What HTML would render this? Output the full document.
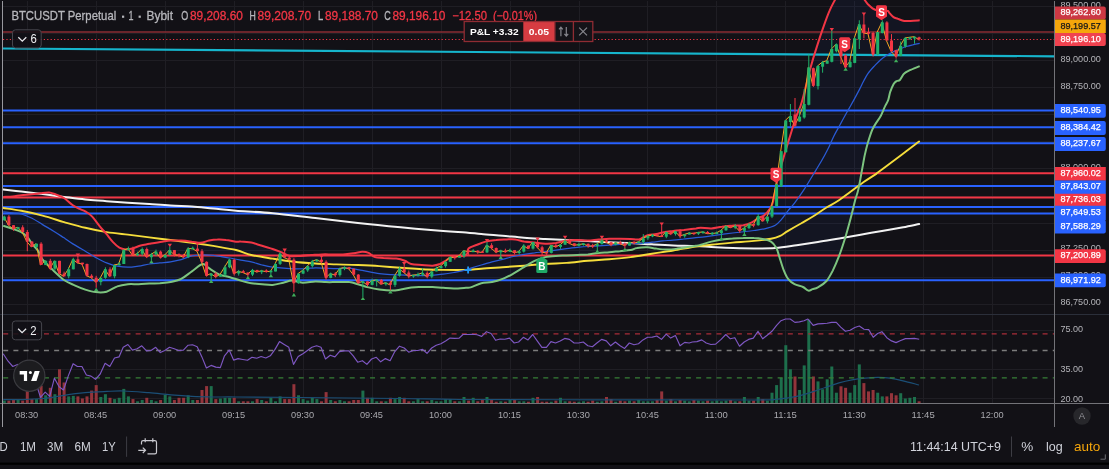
<!DOCTYPE html>
<html><head><meta charset="utf-8"><title>BTCUSDT Perpetual chart</title>
<style>html,body{margin:0;padding:0;background:#121116;overflow:hidden}body{width:1109px;height:469px;position:relative;font-family:"Liberation Sans",sans-serif}</style></head>
<body>
<svg width="1109" height="469" viewBox="0 0 1109 469" style="position:absolute;left:0;top:0" font-family="Liberation Sans, sans-serif">
<rect width="1109" height="469" fill="#121116"/>
<defs><clipPath id="main"><rect x="3" y="0" width="1051.5" height="314"/></clipPath><clipPath id="rsi"><rect x="3" y="315" width="1051.5" height="88"/></clipPath></defs>
<g stroke="#1f1e24" stroke-width="1" shape-rendering="crispEdges">
<line x1="27.3" y1="1" x2="27.3" y2="403"/>
<line x1="96.3" y1="1" x2="96.3" y2="403"/>
<line x1="165.2" y1="1" x2="165.2" y2="403"/>
<line x1="234.2" y1="1" x2="234.2" y2="403"/>
<line x1="303.1" y1="1" x2="303.1" y2="403"/>
<line x1="372.1" y1="1" x2="372.1" y2="403"/>
<line x1="441.1" y1="1" x2="441.1" y2="403"/>
<line x1="510.0" y1="1" x2="510.0" y2="403"/>
<line x1="579.0" y1="1" x2="579.0" y2="403"/>
<line x1="647.9" y1="1" x2="647.9" y2="403"/>
<line x1="716.9" y1="1" x2="716.9" y2="403"/>
<line x1="785.9" y1="1" x2="785.9" y2="403"/>
<line x1="854.8" y1="1" x2="854.8" y2="403"/>
<line x1="923.8" y1="1" x2="923.8" y2="403"/>
<line x1="992.7" y1="1" x2="992.7" y2="403"/>
<line x1="3" y1="304.2" x2="1054" y2="304.2"/>
<line x1="3" y1="277.1" x2="1054" y2="277.1"/>
<line x1="3" y1="250.1" x2="1054" y2="250.1"/>
<line x1="3" y1="223.0" x2="1054" y2="223.0"/>
<line x1="3" y1="196.0" x2="1054" y2="196.0"/>
<line x1="3" y1="168.9" x2="1054" y2="168.9"/>
<line x1="3" y1="141.9" x2="1054" y2="141.9"/>
<line x1="3" y1="114.8" x2="1054" y2="114.8"/>
<line x1="3" y1="87.8" x2="1054" y2="87.8"/>
<line x1="3" y1="60.7" x2="1054" y2="60.7"/>
<line x1="3" y1="33.7" x2="1054" y2="33.7"/>
<line x1="3" y1="6.6" x2="1054" y2="6.6"/>
<line x1="3" y1="330.3" x2="1054" y2="330.3"/>
<line x1="3" y1="369.3" x2="1054" y2="369.3"/>
<line x1="3" y1="398.5" x2="1054" y2="398.5"/>
</g>
<g clip-path="url(#main)">
<polygon points="3.2,196.9 12.8,196.5 21.3,195.2 32.0,194.3 40.5,193.3 49.0,192.6 55.4,194.3 64.0,198.0 72.5,205.0 78.9,208.6 85.3,211.4 91.7,216.1 100.2,226.8 106.6,234.2 113.0,242.1 119.4,247.7 125.8,249.4 132.2,248.5 140.7,245.5 149.3,243.8 162.0,241.7 170.6,240.6 181.2,240.6 191.9,241.7 200.4,242.8 209.0,240.6 217.5,239.6 226.0,240.0 236.0,241.7 240.7,241.6 251.3,242.6 262.0,245.8 272.6,249.0 281.2,252.2 289.7,255.9 300.4,255.9 311.0,255.0 321.7,254.4 332.3,254.4 343.0,254.4 353.7,253.3 362.2,251.8 368.6,252.9 375.0,257.1 383.5,258.0 396.3,258.6 404.8,260.8 411.2,264.0 421.9,265.0 432.6,265.7 440.0,264.0 445.4,260.8 451.7,257.1 466.0,255.0 468.5,248.6 477.1,244.8 485.6,241.6 496.2,240.1 506.9,239.4 515.4,239.4 524.0,241.6 534.6,242.6 545.3,243.7 555.9,243.1 566.6,240.5 577.3,240.1 587.9,240.5 598.6,239.4 609.3,238.8 619.9,238.8 630.6,239.0 639.1,239.4 647.6,235.2 656.2,234.1 664.7,232.0 673.2,230.9 683.9,229.9 696.0,228.4 700.7,227.7 711.3,228.4 722.0,226.7 732.6,225.6 743.3,225.2 751.8,222.4 758.2,218.1 764.6,214.9 770.0,208.5 773.2,201.1 776.2,185.3 780.5,168.2 784.8,153.3 789.0,139.4 793.3,125.6 797.6,112.8 801.8,102.1 810.4,68.2 816.8,46.9 823.2,27.7 829.6,10.7 834.9,0.0 838.1,-6.4 846.6,-14.9 855.1,-12.8 861.5,-5.3 864.7,0.0 867.9,4.3 872.2,8.1 876.5,10.2 887.1,10.7 889.3,12.8 893.5,17.1 897.8,18.8 904.2,20.9 910.6,20.9 919.7,20.3 919.7,66.1 910.6,69.9 904.2,73.6 899.9,80.0 896.7,81.0 893.5,84.2 890.3,91.7 888.2,100.0 885.0,106.4 880.7,116.0 876.5,122.4 872.2,129.9 867.9,142.6 864.7,155.4 861.5,172.5 858.3,189.6 855.2,200.0 851.0,217.1 845.7,236.2 839.3,255.4 832.9,270.4 826.5,281.0 817.9,287.4 812.6,289.1 808.3,290.6 803.0,287.0 794.5,284.2 788.1,278.9 783.8,270.4 779.6,257.6 776.4,248.0 771.0,241.6 762.5,239.0 754.0,238.0 743.3,238.0 732.6,238.4 722.0,239.4 711.3,241.6 700.7,244.8 696.0,245.8 686.0,247.3 677.5,248.6 666.8,249.5 656.2,248.6 647.6,247.3 637.0,248.0 630.6,250.1 619.9,251.2 609.3,252.2 598.6,252.9 587.9,254.4 577.3,255.0 566.6,255.4 555.9,255.9 545.3,257.1 534.6,260.8 524.0,267.2 513.3,273.6 502.6,278.9 492.0,282.1 481.3,283.2 470.7,287.4 466.0,287.8 453.9,288.5 443.2,287.8 432.6,287.0 421.9,287.0 411.2,287.4 400.6,289.6 392.0,290.6 379.3,289.6 368.6,287.4 357.9,284.2 349.4,282.1 336.6,282.1 325.9,282.1 315.3,281.4 302.5,282.7 291.8,280.6 283.3,282.7 272.6,284.9 262.0,284.2 251.3,283.2 240.7,280.6 229.9,277.2 219.6,274.6 209.0,268.2 202.6,264.0 191.9,271.4 181.2,278.9 170.6,282.1 159.9,283.2 149.3,283.6 138.6,284.2 127.9,284.2 117.3,286.4 106.6,291.7 95.9,292.1 85.3,289.6 74.6,285.3 64.0,280.0 53.3,270.4 42.6,259.7 38.4,251.2 32.0,243.8 27.7,237.4 21.3,232.1 12.8,228.9 3.2,225.7" fill="#2962ff" fill-opacity="0.055"/>
<line x1="3" y1="110.4" x2="1054.5" y2="110.4" stroke="#2962ff" stroke-width="2"/>
<line x1="3" y1="127.3" x2="1054.5" y2="127.3" stroke="#2962ff" stroke-width="2"/>
<line x1="3" y1="143.2" x2="1054.5" y2="143.2" stroke="#2962ff" stroke-width="2"/>
<line x1="3" y1="173.3" x2="1054.5" y2="173.3" stroke="#f23645" stroke-width="2"/>
<line x1="3" y1="185.9" x2="1054.5" y2="185.9" stroke="#2962ff" stroke-width="2"/>
<line x1="3" y1="197.5" x2="1054.5" y2="197.5" stroke="#f23645" stroke-width="2"/>
<line x1="3" y1="206.9" x2="1054.5" y2="206.9" stroke="#2962ff" stroke-width="2"/>
<line x1="3" y1="213.5" x2="1054.5" y2="213.5" stroke="#2962ff" stroke-width="2"/>
<line x1="3" y1="255.4" x2="1054.5" y2="255.4" stroke="#f23645" stroke-width="2"/>
<line x1="3" y1="280.2" x2="1054.5" y2="280.2" stroke="#2962ff" stroke-width="2"/>
<line x1="3" y1="48.5" x2="1054.5" y2="56.3" stroke="#16b5cc" stroke-width="2.2"/>
<line x1="3" y1="32" x2="1054.5" y2="32" stroke="#8a2d33" stroke-width="1.7"/>
<line x1="3" y1="39.5" x2="1054.5" y2="39.5" stroke="#f23645" stroke-width="1" stroke-dasharray="1.2,2.2"/>
<path d="M3.2,189.4 C6.2,189.8 14.7,190.8 21.3,191.6 C27.9,192.4 35.5,193.2 42.6,194.1 C49.8,195.0 56.9,196.0 64.0,196.9 C71.1,197.8 78.2,198.8 85.3,199.5 C92.4,200.2 99.5,200.6 106.6,201.2 C113.7,201.7 120.8,202.2 127.9,202.7 C135.0,203.1 142.1,203.5 149.3,203.9 C156.4,204.4 163.5,205.0 170.6,205.4 C177.7,205.9 184.8,206.0 191.9,206.5 C199.0,207.0 205.9,207.9 213.2,208.6 C220.6,209.3 226.1,210.0 236.0,210.8 C245.9,211.5 259.4,212.0 272.6,213.2 C285.9,214.4 301.1,216.5 315.3,218.1 C329.5,219.8 343.7,221.5 357.9,223.0 C372.1,224.6 386.4,226.0 400.6,227.3 C414.8,228.6 432.3,230.1 443.2,230.9 C454.1,231.8 459.7,231.9 466.0,232.4 C472.4,232.9 475.2,233.5 481.3,234.1 C487.4,234.7 495.5,235.2 502.6,235.8 C509.8,236.4 516.9,237.2 524.0,237.7 C531.1,238.3 538.2,238.6 545.3,239.0 C552.4,239.4 559.5,239.8 566.6,240.1 C573.7,240.4 580.8,240.6 587.9,240.9 C595.0,241.3 602.1,241.9 609.3,242.2 C616.4,242.6 623.5,242.7 630.6,243.1 C637.7,243.4 644.8,244.0 651.9,244.3 C659.0,244.7 665.9,245.1 673.2,245.4 C680.6,245.7 689.7,245.8 696.0,246.1 C702.4,246.3 705.2,246.6 711.3,246.9 C717.4,247.2 725.5,247.7 732.6,248.0 C739.8,248.2 746.9,248.4 754.0,248.4 C761.1,248.4 768.2,248.5 775.3,248.0 C782.4,247.4 789.5,246.2 796.6,245.2 C803.7,244.2 810.8,243.1 817.9,242.0 C825.0,240.9 832.1,239.6 839.3,238.4 C846.4,237.2 853.5,236.0 860.6,234.8 C867.7,233.5 874.8,232.2 881.9,230.9 C889.0,229.7 897.0,228.4 903.2,227.3 C909.4,226.2 916.5,224.6 919.2,224.1" fill="none" stroke="#f2f2f2" stroke-width="2" stroke-linecap="round"/>
<path d="M3.2,208.0 C6.2,208.5 14.7,209.5 21.3,210.8 C27.9,212.0 35.5,213.8 42.6,215.7 C49.8,217.6 56.9,220.0 64.0,222.1 C71.1,224.1 78.2,226.2 85.3,227.8 C92.4,229.5 99.5,231.0 106.6,232.1 C113.7,233.2 120.8,233.8 127.9,234.6 C135.0,235.5 142.1,236.5 149.3,237.4 C156.4,238.3 163.5,239.1 170.6,240.0 C177.7,240.9 184.8,241.8 191.9,242.8 C199.0,243.7 205.9,244.7 213.2,245.9 C220.6,247.2 229.7,248.5 236.0,250.0 C242.4,251.5 245.2,253.6 251.3,255.0 C257.4,256.4 265.5,257.5 272.6,258.6 C279.8,259.8 286.9,261.0 294.0,261.8 C301.1,262.7 308.2,263.1 315.3,263.5 C322.4,264.0 329.5,264.1 336.6,264.4 C343.7,264.6 350.8,264.7 357.9,265.0 C365.0,265.3 372.1,265.6 379.3,266.1 C386.4,266.6 393.5,267.3 400.6,267.8 C407.7,268.3 414.8,268.9 421.9,269.3 C429.0,269.7 435.9,269.8 443.2,269.9 C450.6,270.0 459.7,270.1 466.0,269.9 C472.4,269.7 475.2,269.1 481.3,268.7 C487.4,268.2 495.5,267.7 502.6,267.2 C509.8,266.7 516.9,266.2 524.0,265.7 C531.1,265.1 538.2,264.4 545.3,264.0 C552.4,263.5 559.5,263.4 566.6,262.9 C573.7,262.4 580.8,261.4 587.9,260.8 C595.0,260.2 602.1,259.9 609.3,259.3 C616.4,258.7 623.5,258.1 630.6,257.1 C637.7,256.2 644.8,254.8 651.9,253.7 C659.0,252.6 665.9,251.7 673.2,250.5 C680.6,249.3 689.7,247.4 696.0,246.5 C702.4,245.5 705.2,245.4 711.3,244.8 C717.4,244.1 725.5,243.3 732.6,242.6 C739.8,242.0 747.6,241.6 754.0,240.9 C760.4,240.3 766.8,239.6 771.0,238.8 C775.3,238.0 776.7,237.6 779.6,236.2 C782.4,234.9 784.5,233.0 788.1,230.9 C791.6,228.8 796.6,225.9 800.9,223.5 C805.1,221.0 809.4,218.7 813.7,216.0 C817.9,213.3 822.2,210.1 826.5,207.5 C830.7,204.8 833.1,204.2 839.3,200.0 C845.5,195.8 857.5,186.5 863.7,182.1 C869.9,177.7 872.2,176.6 876.5,173.6 C880.7,170.5 885.0,167.2 889.3,164.0 C893.5,160.8 897.8,157.6 902.0,154.4 C906.3,151.2 912.0,146.9 914.8,144.8 C917.7,142.6 918.4,142.1 919.1,141.6" fill="none" stroke="#f5dd3b" stroke-width="1.9" stroke-linecap="round"/>
<path d="M3.2,211.8 C4.8,212.0 9.8,212.5 12.8,212.9 C15.8,213.3 18.1,213.1 21.3,214.0 C24.5,214.9 28.4,216.5 32.0,218.2 C35.5,220.0 39.1,222.5 42.6,224.6 C46.2,226.8 49.8,228.8 53.3,231.0 C56.9,233.2 60.4,235.5 64.0,237.8 C67.5,240.2 71.1,242.7 74.6,244.9 C78.2,247.1 81.7,249.1 85.3,251.2 C88.8,253.3 92.4,255.6 95.9,257.6 C99.5,259.5 103.1,261.5 106.6,262.9 C110.2,264.3 113.7,265.4 117.3,266.1 C120.8,266.8 124.4,267.2 127.9,267.2 C131.5,267.2 135.0,266.6 138.6,266.1 C142.1,265.6 145.7,264.5 149.3,264.0 C152.8,263.4 156.4,263.3 159.9,262.9 C163.5,262.5 167.0,262.4 170.6,261.8 C174.1,261.3 177.7,260.7 181.2,259.7 C184.8,258.7 188.3,256.6 191.9,255.9 C195.5,255.1 199.0,255.1 202.6,255.0 C206.1,254.9 209.7,255.1 213.2,255.4 C216.8,255.8 221.1,256.7 223.9,257.1 C226.7,257.6 227.1,257.5 229.9,258.0 C232.6,258.5 237.1,259.5 240.7,260.1 C244.2,260.8 247.8,261.0 251.3,261.8 C254.9,262.7 258.4,264.1 262.0,265.0 C265.5,265.9 268.0,266.6 272.6,267.2 C277.3,267.8 284.4,268.4 289.7,268.7 C295.0,268.9 300.4,268.8 304.6,268.7 C308.9,268.5 311.7,267.9 315.3,267.8 C318.8,267.7 322.4,268.1 325.9,268.2 C329.5,268.4 332.7,268.7 336.6,268.7 C340.5,268.7 345.1,267.9 349.4,268.2 C353.7,268.5 357.2,269.5 362.2,270.4 C367.2,271.3 374.3,272.9 379.3,273.6 C384.2,274.3 387.8,274.4 392.0,274.6 C396.3,274.9 399.9,274.9 404.8,275.1 C409.8,275.2 417.3,275.7 421.9,275.7 C426.5,275.7 429.0,275.3 432.6,275.1 C436.1,274.8 439.7,274.6 443.2,274.2 C446.8,273.8 450.7,273.1 453.9,272.5 C457.1,271.9 459.6,271.5 462.4,270.8 C465.2,270.1 467.5,269.2 470.7,268.2 C473.8,267.3 477.8,266.1 481.3,265.0 C484.9,264.0 488.4,262.8 492.0,261.8 C495.5,260.9 499.1,260.2 502.6,259.3 C506.2,258.4 509.8,257.3 513.3,256.5 C516.9,255.7 520.4,255.0 524.0,254.4 C527.5,253.8 531.1,253.3 534.6,252.9 C538.2,252.4 541.7,252.1 545.3,251.6 C548.8,251.1 552.4,250.6 555.9,250.1 C559.5,249.6 563.1,249.1 566.6,248.6 C570.2,248.2 573.7,247.7 577.3,247.3 C580.8,247.0 584.4,246.7 587.9,246.5 C591.5,246.2 595.0,246.1 598.6,245.8 C602.1,245.6 605.7,245.5 609.3,245.2 C612.8,245.0 616.4,244.6 619.9,244.3 C623.5,244.1 627.0,243.9 630.6,243.7 C634.1,243.5 637.7,243.5 641.2,243.3 C644.8,243.0 648.3,242.6 651.9,242.2 C655.5,241.8 659.0,241.3 662.6,240.9 C666.1,240.6 669.7,240.4 673.2,240.1 C676.8,239.8 680.1,239.4 683.9,239.0 C687.7,238.6 691.5,238.3 696.0,237.7 C700.6,237.2 705.2,236.6 711.3,235.8 C717.4,235.0 725.5,233.9 732.6,233.0 C739.8,232.2 748.6,231.2 754.0,230.5 C759.3,229.8 761.1,229.7 764.6,228.8 C768.2,227.9 772.4,226.8 775.3,225.2 C778.1,223.6 779.6,221.6 781.7,219.2 C783.8,216.8 785.9,213.3 788.1,210.7 C790.2,208.0 791.8,206.7 794.5,203.2 C797.1,199.7 801.0,194.1 804.0,189.6 C807.0,185.0 809.7,180.3 812.5,175.7 C815.3,171.1 818.5,166.1 821.0,161.8 C823.5,157.6 825.3,154.4 827.4,150.1 C829.6,145.8 831.7,140.5 833.8,136.2 C835.9,132.0 838.1,128.4 840.2,124.5 C842.3,120.6 844.8,116.0 846.6,112.8 C848.4,109.6 848.7,109.2 850.9,105.3 C853.0,101.5 857.3,93.6 859.4,89.6 C861.5,85.5 862.2,83.7 863.7,81.0 C865.1,78.4 866.2,76.0 867.9,73.6 C869.7,71.1 872.2,68.4 874.3,66.1 C876.5,63.8 878.6,61.5 880.7,59.7 C882.9,57.9 885.0,56.4 887.1,55.0 C889.3,53.7 891.4,52.6 893.5,51.6 C895.7,50.6 897.8,49.9 899.9,49.0 C902.0,48.2 904.2,47.2 906.3,46.5 C908.4,45.8 910.5,45.3 912.7,44.8 C914.9,44.2 918.6,43.5 919.7,43.3" fill="none" stroke="#2a5bd6" stroke-width="1.25"/>
<path d="M3.2,196.9 C4.8,196.8 9.8,196.8 12.8,196.5 C15.8,196.2 18.1,195.6 21.3,195.2 C24.5,194.8 28.8,194.7 32.0,194.3 C35.2,194.0 37.7,193.6 40.5,193.3 C43.4,193.0 46.6,192.5 49.0,192.6 C51.5,192.8 52.9,193.5 55.4,194.3 C57.9,195.2 61.1,196.2 64.0,198.0 C66.8,199.8 70.0,203.2 72.5,205.0 C75.0,206.8 76.8,207.6 78.9,208.6 C81.0,209.7 83.2,210.2 85.3,211.4 C87.4,212.7 89.2,213.5 91.7,216.1 C94.2,218.7 97.7,223.7 100.2,226.8 C102.7,229.8 104.5,231.7 106.6,234.2 C108.7,236.8 110.9,239.9 113.0,242.1 C115.1,244.3 117.3,246.4 119.4,247.7 C121.5,248.9 123.7,249.2 125.8,249.4 C127.9,249.5 129.7,249.1 132.2,248.5 C134.7,247.9 137.9,246.3 140.7,245.5 C143.6,244.7 145.7,244.5 149.3,243.8 C152.8,243.2 158.5,242.2 162.0,241.7 C165.6,241.2 167.4,240.8 170.6,240.6 C173.8,240.4 177.7,240.4 181.2,240.6 C184.8,240.8 188.7,241.3 191.9,241.7 C195.1,242.0 197.6,242.9 200.4,242.8 C203.3,242.6 206.1,241.2 209.0,240.6 C211.8,240.1 214.6,239.7 217.5,239.6 C220.3,239.4 222.9,239.6 226.0,240.0 C229.1,240.3 233.6,241.4 236.0,241.7 C238.5,242.0 238.1,241.4 240.7,241.6 C243.2,241.7 247.8,241.9 251.3,242.6 C254.9,243.4 258.4,244.8 262.0,245.8 C265.5,246.9 269.4,248.0 272.6,249.0 C275.8,250.1 278.3,251.1 281.2,252.2 C284.0,253.4 286.5,255.3 289.7,255.9 C292.9,256.5 296.8,256.0 300.4,255.9 C303.9,255.7 307.5,255.3 311.0,255.0 C314.6,254.8 318.1,254.5 321.7,254.4 C325.2,254.3 328.8,254.4 332.3,254.4 C335.9,254.4 339.5,254.5 343.0,254.4 C346.6,254.2 350.5,253.7 353.7,253.3 C356.9,252.9 359.7,251.9 362.2,251.8 C364.7,251.7 366.5,252.0 368.6,252.9 C370.7,253.8 372.5,256.3 375.0,257.1 C377.5,258.0 380.0,257.7 383.5,258.0 C387.1,258.2 392.8,258.2 396.3,258.6 C399.9,259.1 402.4,259.9 404.8,260.8 C407.3,261.7 408.4,263.3 411.2,264.0 C414.1,264.7 418.3,264.7 421.9,265.0 C425.5,265.3 429.5,265.8 432.6,265.7 C435.6,265.5 437.9,264.8 440.0,264.0 C442.2,263.1 443.4,261.9 445.4,260.8 C447.3,259.6 448.3,258.1 451.7,257.1 C455.2,256.2 463.2,256.4 466.0,255.0 C468.8,253.6 466.7,250.3 468.5,248.6 C470.4,246.9 474.2,245.9 477.1,244.8 C479.9,243.6 482.4,242.4 485.6,241.6 C488.8,240.8 492.7,240.4 496.2,240.1 C499.8,239.7 503.7,239.6 506.9,239.4 C510.1,239.3 512.6,239.1 515.4,239.4 C518.3,239.8 520.8,241.0 524.0,241.6 C527.2,242.1 531.1,242.3 534.6,242.6 C538.2,243.0 541.7,243.6 545.3,243.7 C548.8,243.8 552.4,243.6 555.9,243.1 C559.5,242.5 563.1,241.0 566.6,240.5 C570.2,240.0 573.7,240.1 577.3,240.1 C580.8,240.1 584.4,240.6 587.9,240.5 C591.5,240.4 595.0,239.7 598.6,239.4 C602.1,239.2 605.7,238.9 609.3,238.8 C612.8,238.7 616.4,238.8 619.9,238.8 C623.5,238.8 627.4,238.9 630.6,239.0 C633.8,239.1 636.3,240.1 639.1,239.4 C641.9,238.8 644.8,236.1 647.6,235.2 C650.5,234.3 653.3,234.6 656.2,234.1 C659.0,233.6 661.8,232.5 664.7,232.0 C667.5,231.4 670.0,231.3 673.2,230.9 C676.4,230.6 680.1,230.3 683.9,229.9 C687.7,229.4 693.2,228.7 696.0,228.4 C698.8,228.0 698.1,227.7 700.7,227.7 C703.2,227.7 707.8,228.5 711.3,228.4 C714.9,228.2 718.4,227.1 722.0,226.7 C725.5,226.2 729.1,225.8 732.6,225.6 C736.2,225.3 740.1,225.7 743.3,225.2 C746.5,224.6 749.3,223.6 751.8,222.4 C754.3,221.2 756.1,219.4 758.2,218.1 C760.4,216.9 762.7,216.5 764.6,214.9 C766.6,213.3 768.5,210.8 770.0,208.5 C771.4,206.2 772.1,204.9 773.2,201.1 C774.2,197.2 775.0,190.8 776.2,185.3 C777.5,179.8 779.1,173.6 780.5,168.2 C781.9,162.9 783.4,158.1 784.8,153.3 C786.2,148.5 787.6,144.1 789.0,139.4 C790.5,134.8 791.9,130.0 793.3,125.6 C794.7,121.1 796.1,116.7 797.6,112.8 C799.0,108.9 799.7,109.6 801.8,102.1 C804.0,94.7 807.9,77.4 810.4,68.2 C812.9,59.0 814.6,53.7 816.8,46.9 C818.9,40.2 821.0,33.8 823.2,27.7 C825.3,21.7 827.6,15.3 829.6,10.7 C831.5,6.0 833.5,2.8 834.9,0.0 C836.3,-2.8 836.1,-3.9 838.1,-6.4 C840.0,-8.9 843.8,-13.9 846.6,-14.9 C849.5,-16.0 852.7,-14.4 855.1,-12.8 C857.6,-11.2 859.9,-7.5 861.5,-5.3 C863.1,-3.2 863.7,-1.6 864.7,0.0 C865.8,1.6 866.7,2.9 867.9,4.3 C869.2,5.6 870.8,7.1 872.2,8.1 C873.6,9.1 874.0,9.8 876.5,10.2 C878.9,10.7 885.0,10.2 887.1,10.7 C889.3,11.1 888.2,11.7 889.3,12.8 C890.3,13.9 892.1,16.1 893.5,17.1 C894.9,18.1 896.0,18.1 897.8,18.8 C899.6,19.4 902.0,20.5 904.2,20.9 C906.3,21.3 908.0,21.0 910.6,20.9 C913.2,20.8 918.2,20.4 919.7,20.3" fill="none" stroke="#f23645" stroke-width="2"/>
<path d="M3.2,225.7 C4.8,226.2 9.8,227.8 12.8,228.9 C15.8,230.0 18.8,230.7 21.3,232.1 C23.8,233.5 25.9,235.5 27.7,237.4 C29.5,239.4 30.2,241.5 32.0,243.8 C33.8,246.1 36.6,248.5 38.4,251.2 C40.2,253.8 40.2,256.5 42.6,259.7 C45.1,262.9 49.8,267.0 53.3,270.4 C56.9,273.7 60.4,277.5 64.0,280.0 C67.5,282.4 71.1,283.7 74.6,285.3 C78.2,286.9 81.7,288.4 85.3,289.6 C88.8,290.7 92.4,291.8 95.9,292.1 C99.5,292.5 103.1,292.6 106.6,291.7 C110.2,290.7 113.7,287.6 117.3,286.4 C120.8,285.1 124.4,284.6 127.9,284.2 C131.5,283.9 135.0,284.3 138.6,284.2 C142.1,284.1 145.7,283.8 149.3,283.6 C152.8,283.4 156.4,283.4 159.9,283.2 C163.5,282.9 167.0,282.8 170.6,282.1 C174.1,281.4 177.7,280.7 181.2,278.9 C184.8,277.1 188.3,273.9 191.9,271.4 C195.5,268.9 199.7,264.5 202.6,264.0 C205.4,263.4 206.1,266.5 209.0,268.2 C211.8,270.0 216.1,273.1 219.6,274.6 C223.1,276.1 226.3,276.2 229.9,277.2 C233.4,278.2 237.1,279.6 240.7,280.6 C244.2,281.6 247.8,282.6 251.3,283.2 C254.9,283.8 258.4,283.9 262.0,284.2 C265.5,284.5 269.1,285.1 272.6,284.9 C276.2,284.6 280.1,283.4 283.3,282.7 C286.5,282.0 288.6,280.6 291.8,280.6 C295.0,280.6 298.6,282.6 302.5,282.7 C306.4,282.9 311.4,281.6 315.3,281.4 C319.2,281.3 322.4,282.0 325.9,282.1 C329.5,282.2 332.7,282.1 336.6,282.1 C340.5,282.1 345.8,281.7 349.4,282.1 C353.0,282.4 354.7,283.3 357.9,284.2 C361.1,285.1 365.0,286.5 368.6,287.4 C372.1,288.3 375.3,289.0 379.3,289.6 C383.2,290.1 388.5,290.6 392.0,290.6 C395.6,290.6 397.4,290.1 400.6,289.6 C403.8,289.0 407.7,287.8 411.2,287.4 C414.8,287.0 418.3,287.1 421.9,287.0 C425.5,286.9 429.0,286.9 432.6,287.0 C436.1,287.1 439.7,287.6 443.2,287.8 C446.8,288.1 450.1,288.5 453.9,288.5 C457.7,288.5 463.2,288.0 466.0,287.8 C468.8,287.7 468.1,288.2 470.7,287.4 C473.2,286.6 477.8,284.0 481.3,283.2 C484.9,282.3 488.4,282.8 492.0,282.1 C495.5,281.4 499.1,280.3 502.6,278.9 C506.2,277.5 509.8,275.5 513.3,273.6 C516.9,271.6 520.4,269.3 524.0,267.2 C527.5,265.0 531.1,262.4 534.6,260.8 C538.2,259.1 541.7,258.0 545.3,257.1 C548.8,256.3 552.4,256.1 555.9,255.9 C559.5,255.6 563.1,255.6 566.6,255.4 C570.2,255.3 573.7,255.2 577.3,255.0 C580.8,254.8 584.4,254.7 587.9,254.4 C591.5,254.0 595.0,253.2 598.6,252.9 C602.1,252.5 605.7,252.5 609.3,252.2 C612.8,252.0 616.4,251.5 619.9,251.2 C623.5,250.8 627.7,250.6 630.6,250.1 C633.4,249.6 634.1,248.4 637.0,248.0 C639.8,247.5 644.4,247.2 647.6,247.3 C650.8,247.4 653.0,248.3 656.2,248.6 C659.4,249.0 663.3,249.5 666.8,249.5 C670.4,249.5 674.3,249.0 677.5,248.6 C680.7,248.3 682.9,247.8 686.0,247.3 C689.1,246.9 693.6,246.3 696.0,245.8 C698.5,245.4 698.1,245.5 700.7,244.8 C703.2,244.1 707.8,242.5 711.3,241.6 C714.9,240.7 718.4,240.0 722.0,239.4 C725.5,238.9 729.1,238.6 732.6,238.4 C736.2,238.1 739.8,238.0 743.3,238.0 C746.9,237.9 750.8,237.8 754.0,238.0 C757.2,238.1 759.7,238.4 762.5,239.0 C765.3,239.6 768.7,240.1 771.0,241.6 C773.3,243.1 774.9,245.3 776.4,248.0 C777.8,250.6 778.3,253.8 779.6,257.6 C780.8,261.3 782.4,266.8 783.8,270.4 C785.2,273.9 786.3,276.6 788.1,278.9 C789.9,281.2 792.0,282.9 794.5,284.2 C797.0,285.6 800.7,285.9 803.0,287.0 C805.3,288.1 806.7,290.3 808.3,290.6 C809.9,291.0 811.0,289.7 812.6,289.1 C814.2,288.6 815.6,288.8 817.9,287.4 C820.2,286.1 824.0,283.9 826.5,281.0 C828.9,278.2 830.7,274.6 832.9,270.4 C835.0,266.1 837.1,261.1 839.3,255.4 C841.4,249.8 843.7,242.6 845.7,236.2 C847.6,229.9 849.4,223.1 851.0,217.1 C852.6,211.0 854.0,204.6 855.2,200.0 C856.5,195.4 857.3,194.1 858.3,189.6 C859.4,185.0 860.5,178.2 861.5,172.5 C862.6,166.8 863.7,160.4 864.7,155.4 C865.8,150.5 866.7,146.9 867.9,142.6 C869.2,138.4 870.8,133.2 872.2,129.9 C873.6,126.5 875.0,124.7 876.5,122.4 C877.9,120.1 879.3,118.7 880.7,116.0 C882.1,113.3 883.7,109.1 885.0,106.4 C886.2,103.7 887.3,102.5 888.2,100.0 C889.1,97.5 889.4,94.3 890.3,91.7 C891.2,89.1 892.5,86.0 893.5,84.2 C894.6,82.4 895.7,81.7 896.7,81.0 C897.8,80.3 898.7,81.2 899.9,80.0 C901.2,78.7 902.4,75.2 904.2,73.6 C906.0,71.9 908.0,71.2 910.6,69.9 C913.2,68.7 918.2,66.7 919.7,66.1" fill="none" stroke="#7dc47f" stroke-width="2"/>
<polyline points="3.8,216.6 8.4,225.2 13.0,228.8 17.6,227.3 22.2,232.0 26.8,241.6 31.4,246.9 36.0,243.7 40.6,265.0 45.2,260.8 49.8,268.7 54.4,260.8 59.0,273.6 63.6,276.3 68.2,269.3 72.8,259.3 77.4,262.9 81.9,264.0 86.5,275.7 91.1,277.8 95.7,282.1 100.3,277.8 104.9,269.3 109.5,276.3 114.1,265.0 118.7,264.0 123.3,250.1 127.9,248.6 132.5,255.4 137.1,253.7 141.7,249.0 146.3,257.1 150.9,254.4 155.5,251.6 160.1,257.6 164.7,255.0 169.3,250.1 173.9,254.4 178.5,255.4 183.1,257.1 187.7,248.6 192.3,248.6 196.9,251.2 201.5,261.8 206.1,275.7 210.7,273.6 215.3,276.8 219.9,274.6 224.5,267.2 229.1,259.7 233.7,273.6 238.2,271.4 242.8,272.5 247.4,274.6 252.0,269.9 256.6,272.1 261.2,270.8 265.8,271.6 270.4,271.4 275.0,264.0 279.6,253.7 284.2,257.6 288.8,259.7 293.4,283.2 298.0,273.6 302.6,270.4 307.2,266.1 311.8,261.4 316.4,259.7 321.0,261.8 325.6,277.8 330.2,273.6 334.8,275.1 339.4,268.7 344.0,267.4 348.6,268.7 353.2,274.6 357.8,283.2 362.4,281.4 367.0,284.9 371.6,280.6 376.2,280.0 380.8,284.2 385.4,282.7 389.9,284.9 394.5,275.7 399.1,268.7 403.7,272.5 408.3,276.3 412.9,275.1 417.5,274.6 422.1,272.9 426.7,276.8 431.3,271.4 435.9,268.2 440.5,266.1 445.1,261.8 449.7,257.1 454.3,257.6 458.9,255.9 463.5,250.7 468.1,251.6 472.7,251.2 477.3,251.8 481.9,252.5 486.5,245.2 491.1,248.0 495.7,252.2 500.3,250.7 504.9,251.8 509.5,250.1 514.1,252.9 518.7,251.6 523.3,245.6 527.9,248.6 532.5,242.0 537.1,247.3 541.6,252.2 546.2,252.9 550.8,245.2 555.4,246.9 560.0,244.8 564.6,240.9 569.2,243.3 573.8,245.4 578.4,244.6 583.0,243.9 587.6,245.8 592.2,246.1 596.8,244.1 601.4,240.5 606.0,242.2 610.6,244.8 615.2,242.6 619.8,243.5 624.4,245.6 629.0,242.2 633.6,242.9 638.2,242.0 642.8,238.4 647.4,236.2 652.0,235.0 656.6,235.8 661.2,236.7 665.8,232.0 670.4,234.1 675.0,231.3 679.6,236.2 684.2,234.5 688.8,233.0 693.4,233.5 697.9,232.4 702.5,232.0 707.1,233.7 711.7,233.5 716.3,233.0 720.9,230.3 725.5,226.0 730.1,227.7 734.7,226.0 739.3,230.9 743.9,228.1 748.5,224.5 753.1,225.2 757.7,216.0 762.3,221.3 766.9,216.6 771.5,206.4 776.1,184.2 780.7,151.2 785.3,120.4 789.9,116.0 794.5,125.7 799.1,116.7 803.7,104.0 808.3,67.5 812.9,85.7 817.5,66.0 822.1,62.2 826.7,60.7 831.3,49.0 835.9,44.3 840.5,56.5 845.1,67.3 849.6,61.8 854.2,38.4 858.8,24.5 863.4,33.0 868.0,33.7 872.6,54.4 877.2,32.0 881.8,22.4 886.4,40.5 891.0,51.2 895.6,56.5 900.2,45.8 904.8,38.0 909.4,37.3 914.0,36.7 918.6,39.4" fill="none" stroke="#f5a623" stroke-width="1" stroke-linejoin="round"/>
<line x1="4.3" y1="215.6" x2="4.3" y2="220.8" stroke="#1fb26b" stroke-width="1"/>
<rect x="2.8" y="216.6" width="3" height="3.6" fill="#1fb26b"/>
<line x1="8.9" y1="215.1" x2="8.9" y2="225.2" stroke="#f23645" stroke-width="1"/>
<rect x="7.4" y="216.6" width="3" height="8.5" fill="#f23645"/>
<line x1="13.5" y1="225.2" x2="13.5" y2="230.8" stroke="#f23645" stroke-width="1"/>
<rect x="12.0" y="225.2" width="3" height="3.6" fill="#f23645"/>
<line x1="18.1" y1="227.3" x2="18.1" y2="229.8" stroke="#1fb26b" stroke-width="1"/>
<rect x="16.6" y="227.2" width="3" height="1.6" fill="#1fb26b"/>
<line x1="22.7" y1="225.3" x2="22.7" y2="232.0" stroke="#f23645" stroke-width="1"/>
<rect x="21.2" y="227.3" width="3" height="4.7" fill="#f23645"/>
<line x1="27.3" y1="230.0" x2="27.3" y2="251.2" stroke="#f23645" stroke-width="1"/>
<rect x="25.8" y="232.0" width="3" height="9.6" fill="#f23645"/>
<line x1="31.9" y1="241.1" x2="31.9" y2="246.9" stroke="#f23645" stroke-width="1"/>
<rect x="30.4" y="241.6" width="3" height="5.3" fill="#f23645"/>
<line x1="36.5" y1="243.7" x2="36.5" y2="248.4" stroke="#1fb26b" stroke-width="1"/>
<rect x="35.0" y="243.7" width="3" height="3.2" fill="#1fb26b"/>
<line x1="41.1" y1="242.2" x2="41.1" y2="265.0" stroke="#f23645" stroke-width="1"/>
<rect x="39.6" y="243.7" width="3" height="21.3" fill="#f23645"/>
<line x1="45.7" y1="260.3" x2="45.7" y2="265.0" stroke="#1fb26b" stroke-width="1"/>
<rect x="44.2" y="260.8" width="3" height="4.3" fill="#1fb26b"/>
<line x1="50.3" y1="258.8" x2="50.3" y2="270.2" stroke="#f23645" stroke-width="1"/>
<rect x="48.8" y="260.8" width="3" height="7.9" fill="#f23645"/>
<line x1="54.9" y1="260.8" x2="54.9" y2="270.7" stroke="#1fb26b" stroke-width="1"/>
<rect x="53.4" y="260.8" width="3" height="7.9" fill="#1fb26b"/>
<line x1="59.5" y1="260.8" x2="59.5" y2="274.1" stroke="#f23645" stroke-width="1"/>
<rect x="58.0" y="260.8" width="3" height="12.8" fill="#f23645"/>
<line x1="64.1" y1="271.6" x2="64.1" y2="276.3" stroke="#f23645" stroke-width="1"/>
<rect x="62.6" y="273.6" width="3" height="2.8" fill="#f23645"/>
<line x1="68.7" y1="267.3" x2="68.7" y2="278.3" stroke="#1fb26b" stroke-width="1"/>
<rect x="67.2" y="269.3" width="3" height="7.0" fill="#1fb26b"/>
<line x1="73.3" y1="257.8" x2="73.3" y2="269.3" stroke="#1fb26b" stroke-width="1"/>
<rect x="71.8" y="259.3" width="3" height="10.0" fill="#1fb26b"/>
<line x1="77.9" y1="255.9" x2="77.9" y2="263.4" stroke="#f23645" stroke-width="1"/>
<rect x="76.4" y="259.3" width="3" height="3.6" fill="#f23645"/>
<line x1="82.4" y1="262.9" x2="82.4" y2="266.0" stroke="#f23645" stroke-width="1"/>
<rect x="80.9" y="262.6" width="3" height="1.6" fill="#f23645"/>
<line x1="87.0" y1="263.5" x2="87.0" y2="276.7" stroke="#f23645" stroke-width="1"/>
<rect x="85.5" y="264.0" width="3" height="11.7" fill="#f23645"/>
<line x1="91.6" y1="274.2" x2="91.6" y2="278.3" stroke="#f23645" stroke-width="1"/>
<rect x="90.1" y="275.7" width="3" height="2.1" fill="#f23645"/>
<line x1="96.2" y1="275.8" x2="96.2" y2="287.8" stroke="#f23645" stroke-width="1"/>
<rect x="94.7" y="277.8" width="3" height="4.3" fill="#f23645"/>
<line x1="100.8" y1="277.8" x2="100.8" y2="285.3" stroke="#1fb26b" stroke-width="1"/>
<rect x="99.3" y="277.8" width="3" height="4.3" fill="#1fb26b"/>
<line x1="105.4" y1="267.3" x2="105.4" y2="278.8" stroke="#1fb26b" stroke-width="1"/>
<rect x="103.9" y="269.3" width="3" height="8.5" fill="#1fb26b"/>
<line x1="110.0" y1="267.3" x2="110.0" y2="276.8" stroke="#f23645" stroke-width="1"/>
<rect x="108.5" y="269.3" width="3" height="7.0" fill="#f23645"/>
<line x1="114.6" y1="265.0" x2="114.6" y2="278.3" stroke="#1fb26b" stroke-width="1"/>
<rect x="113.1" y="265.0" width="3" height="11.3" fill="#1fb26b"/>
<line x1="119.2" y1="262.0" x2="119.2" y2="265.5" stroke="#1fb26b" stroke-width="1"/>
<rect x="117.7" y="263.7" width="3" height="1.6" fill="#1fb26b"/>
<line x1="123.8" y1="249.1" x2="123.8" y2="264.0" stroke="#1fb26b" stroke-width="1"/>
<rect x="122.3" y="250.1" width="3" height="13.9" fill="#1fb26b"/>
<line x1="128.4" y1="246.6" x2="128.4" y2="250.1" stroke="#1fb26b" stroke-width="1"/>
<rect x="126.9" y="248.6" width="3" height="1.6" fill="#1fb26b"/>
<line x1="133.0" y1="246.6" x2="133.0" y2="255.4" stroke="#f23645" stroke-width="1"/>
<rect x="131.5" y="248.6" width="3" height="6.8" fill="#f23645"/>
<line x1="137.6" y1="251.7" x2="137.6" y2="255.9" stroke="#1fb26b" stroke-width="1"/>
<rect x="136.1" y="253.7" width="3" height="1.7" fill="#1fb26b"/>
<line x1="142.2" y1="247.5" x2="142.2" y2="255.7" stroke="#1fb26b" stroke-width="1"/>
<rect x="140.7" y="249.0" width="3" height="4.7" fill="#1fb26b"/>
<line x1="146.8" y1="247.5" x2="146.8" y2="258.1" stroke="#f23645" stroke-width="1"/>
<rect x="145.3" y="249.0" width="3" height="8.1" fill="#f23645"/>
<line x1="151.4" y1="252.9" x2="151.4" y2="260.8" stroke="#1fb26b" stroke-width="1"/>
<rect x="149.9" y="254.4" width="3" height="2.8" fill="#1fb26b"/>
<line x1="156.0" y1="249.6" x2="156.0" y2="255.9" stroke="#1fb26b" stroke-width="1"/>
<rect x="154.5" y="251.6" width="3" height="2.8" fill="#1fb26b"/>
<line x1="160.6" y1="250.6" x2="160.6" y2="258.6" stroke="#f23645" stroke-width="1"/>
<rect x="159.1" y="251.6" width="3" height="6.0" fill="#f23645"/>
<line x1="165.2" y1="254.5" x2="165.2" y2="258.1" stroke="#1fb26b" stroke-width="1"/>
<rect x="163.7" y="255.0" width="3" height="2.6" fill="#1fb26b"/>
<line x1="169.8" y1="246.5" x2="169.8" y2="255.5" stroke="#1fb26b" stroke-width="1"/>
<rect x="168.3" y="250.1" width="3" height="4.9" fill="#1fb26b"/>
<line x1="174.4" y1="250.1" x2="174.4" y2="256.4" stroke="#f23645" stroke-width="1"/>
<rect x="172.9" y="250.1" width="3" height="4.3" fill="#f23645"/>
<line x1="179.0" y1="253.4" x2="179.0" y2="257.4" stroke="#f23645" stroke-width="1"/>
<rect x="177.5" y="254.1" width="3" height="1.6" fill="#f23645"/>
<line x1="183.6" y1="253.9" x2="183.6" y2="258.1" stroke="#f23645" stroke-width="1"/>
<rect x="182.1" y="255.4" width="3" height="1.7" fill="#f23645"/>
<line x1="188.2" y1="247.1" x2="188.2" y2="258.1" stroke="#1fb26b" stroke-width="1"/>
<rect x="186.7" y="248.6" width="3" height="8.5" fill="#1fb26b"/>
<line x1="192.8" y1="246.6" x2="192.8" y2="248.6" stroke="#1fb26b" stroke-width="1"/>
<rect x="191.3" y="247.8" width="3" height="1.6" fill="#1fb26b"/>
<line x1="197.4" y1="244.8" x2="197.4" y2="251.2" stroke="#f23645" stroke-width="1"/>
<rect x="195.9" y="248.6" width="3" height="2.6" fill="#f23645"/>
<line x1="202.0" y1="249.2" x2="202.0" y2="263.3" stroke="#f23645" stroke-width="1"/>
<rect x="200.5" y="251.2" width="3" height="10.7" fill="#f23645"/>
<line x1="206.6" y1="261.3" x2="206.6" y2="276.7" stroke="#f23645" stroke-width="1"/>
<rect x="205.1" y="261.8" width="3" height="13.9" fill="#f23645"/>
<line x1="211.2" y1="273.1" x2="211.2" y2="280.2" stroke="#1fb26b" stroke-width="1"/>
<rect x="209.7" y="273.6" width="3" height="2.1" fill="#1fb26b"/>
<line x1="215.8" y1="272.1" x2="215.8" y2="278.3" stroke="#f23645" stroke-width="1"/>
<rect x="214.3" y="273.6" width="3" height="3.2" fill="#f23645"/>
<line x1="220.4" y1="274.6" x2="220.4" y2="276.8" stroke="#1fb26b" stroke-width="1"/>
<rect x="218.9" y="274.6" width="3" height="2.1" fill="#1fb26b"/>
<line x1="225.0" y1="265.2" x2="225.0" y2="276.6" stroke="#1fb26b" stroke-width="1"/>
<rect x="223.5" y="267.2" width="3" height="7.5" fill="#1fb26b"/>
<line x1="229.6" y1="258.7" x2="229.6" y2="268.2" stroke="#1fb26b" stroke-width="1"/>
<rect x="228.1" y="259.7" width="3" height="7.5" fill="#1fb26b"/>
<line x1="234.2" y1="258.7" x2="234.2" y2="275.6" stroke="#f23645" stroke-width="1"/>
<rect x="232.7" y="259.7" width="3" height="13.9" fill="#f23645"/>
<line x1="238.7" y1="269.9" x2="238.7" y2="275.6" stroke="#1fb26b" stroke-width="1"/>
<rect x="237.2" y="271.4" width="3" height="2.1" fill="#1fb26b"/>
<line x1="243.3" y1="269.9" x2="243.3" y2="272.5" stroke="#f23645" stroke-width="1"/>
<rect x="241.8" y="271.2" width="3" height="1.6" fill="#f23645"/>
<line x1="247.9" y1="272.5" x2="247.9" y2="276.8" stroke="#f23645" stroke-width="1"/>
<rect x="246.4" y="272.5" width="3" height="2.1" fill="#f23645"/>
<line x1="252.5" y1="268.9" x2="252.5" y2="276.1" stroke="#1fb26b" stroke-width="1"/>
<rect x="251.0" y="269.9" width="3" height="4.7" fill="#1fb26b"/>
<line x1="257.1" y1="269.9" x2="257.1" y2="272.1" stroke="#f23645" stroke-width="1"/>
<rect x="255.6" y="269.9" width="3" height="2.1" fill="#f23645"/>
<line x1="261.7" y1="269.8" x2="261.7" y2="274.1" stroke="#1fb26b" stroke-width="1"/>
<rect x="260.2" y="270.6" width="3" height="1.6" fill="#1fb26b"/>
<line x1="266.3" y1="269.3" x2="266.3" y2="272.6" stroke="#f23645" stroke-width="1"/>
<rect x="264.8" y="270.4" width="3" height="1.6" fill="#f23645"/>
<line x1="270.9" y1="269.9" x2="270.9" y2="274.6" stroke="#1fb26b" stroke-width="1"/>
<rect x="269.4" y="270.7" width="3" height="1.6" fill="#1fb26b"/>
<line x1="275.5" y1="263.0" x2="275.5" y2="271.4" stroke="#1fb26b" stroke-width="1"/>
<rect x="274.0" y="264.0" width="3" height="7.5" fill="#1fb26b"/>
<line x1="280.1" y1="252.2" x2="280.1" y2="265.0" stroke="#1fb26b" stroke-width="1"/>
<rect x="278.6" y="253.7" width="3" height="10.2" fill="#1fb26b"/>
<line x1="284.7" y1="251.2" x2="284.7" y2="258.1" stroke="#f23645" stroke-width="1"/>
<rect x="283.2" y="253.7" width="3" height="3.8" fill="#f23645"/>
<line x1="289.3" y1="255.6" x2="289.3" y2="259.7" stroke="#f23645" stroke-width="1"/>
<rect x="287.8" y="257.6" width="3" height="2.1" fill="#f23645"/>
<line x1="293.9" y1="258.2" x2="293.9" y2="292.1" stroke="#f23645" stroke-width="1"/>
<rect x="292.4" y="259.7" width="3" height="23.5" fill="#f23645"/>
<line x1="298.5" y1="273.6" x2="298.5" y2="283.7" stroke="#1fb26b" stroke-width="1"/>
<rect x="297.0" y="273.6" width="3" height="9.6" fill="#1fb26b"/>
<line x1="303.1" y1="269.4" x2="303.1" y2="274.1" stroke="#1fb26b" stroke-width="1"/>
<rect x="301.6" y="270.4" width="3" height="3.2" fill="#1fb26b"/>
<line x1="307.7" y1="265.6" x2="307.7" y2="271.9" stroke="#1fb26b" stroke-width="1"/>
<rect x="306.2" y="266.1" width="3" height="4.3" fill="#1fb26b"/>
<line x1="312.3" y1="259.9" x2="312.3" y2="267.6" stroke="#1fb26b" stroke-width="1"/>
<rect x="310.8" y="261.4" width="3" height="4.7" fill="#1fb26b"/>
<line x1="316.9" y1="259.7" x2="316.9" y2="261.9" stroke="#1fb26b" stroke-width="1"/>
<rect x="315.4" y="259.7" width="3" height="1.7" fill="#1fb26b"/>
<line x1="321.5" y1="257.6" x2="321.5" y2="263.3" stroke="#f23645" stroke-width="1"/>
<rect x="320.0" y="259.7" width="3" height="2.1" fill="#f23645"/>
<line x1="326.1" y1="260.3" x2="326.1" y2="279.8" stroke="#f23645" stroke-width="1"/>
<rect x="324.6" y="261.8" width="3" height="16.0" fill="#f23645"/>
<line x1="330.7" y1="272.6" x2="330.7" y2="278.3" stroke="#1fb26b" stroke-width="1"/>
<rect x="329.2" y="273.6" width="3" height="4.3" fill="#1fb26b"/>
<line x1="335.3" y1="272.1" x2="335.3" y2="277.1" stroke="#f23645" stroke-width="1"/>
<rect x="333.8" y="273.5" width="3" height="1.6" fill="#f23645"/>
<line x1="339.9" y1="267.7" x2="339.9" y2="276.6" stroke="#1fb26b" stroke-width="1"/>
<rect x="338.4" y="268.7" width="3" height="6.4" fill="#1fb26b"/>
<line x1="344.5" y1="266.4" x2="344.5" y2="270.2" stroke="#1fb26b" stroke-width="1"/>
<rect x="343.0" y="267.2" width="3" height="1.6" fill="#1fb26b"/>
<line x1="349.1" y1="266.9" x2="349.1" y2="269.2" stroke="#f23645" stroke-width="1"/>
<rect x="347.6" y="267.2" width="3" height="1.6" fill="#f23645"/>
<line x1="353.7" y1="268.7" x2="353.7" y2="275.1" stroke="#f23645" stroke-width="1"/>
<rect x="352.2" y="268.7" width="3" height="6.0" fill="#f23645"/>
<line x1="358.3" y1="274.1" x2="358.3" y2="283.7" stroke="#f23645" stroke-width="1"/>
<rect x="356.8" y="274.6" width="3" height="8.5" fill="#f23645"/>
<line x1="362.9" y1="280.9" x2="362.9" y2="297.0" stroke="#1fb26b" stroke-width="1"/>
<rect x="361.4" y="281.4" width="3" height="1.7" fill="#1fb26b"/>
<line x1="367.5" y1="281.4" x2="367.5" y2="286.4" stroke="#f23645" stroke-width="1"/>
<rect x="366.0" y="281.4" width="3" height="3.4" fill="#f23645"/>
<line x1="372.1" y1="278.6" x2="372.1" y2="285.4" stroke="#1fb26b" stroke-width="1"/>
<rect x="370.6" y="280.6" width="3" height="4.3" fill="#1fb26b"/>
<line x1="376.7" y1="279.0" x2="376.7" y2="286.4" stroke="#1fb26b" stroke-width="1"/>
<rect x="375.2" y="279.5" width="3" height="1.6" fill="#1fb26b"/>
<line x1="381.3" y1="279.0" x2="381.3" y2="284.2" stroke="#f23645" stroke-width="1"/>
<rect x="379.8" y="280.0" width="3" height="4.3" fill="#f23645"/>
<line x1="385.9" y1="282.2" x2="385.9" y2="285.7" stroke="#1fb26b" stroke-width="1"/>
<rect x="384.4" y="282.7" width="3" height="1.6" fill="#1fb26b"/>
<line x1="390.4" y1="280.7" x2="390.4" y2="290.6" stroke="#f23645" stroke-width="1"/>
<rect x="388.9" y="282.7" width="3" height="2.1" fill="#f23645"/>
<line x1="395.0" y1="274.7" x2="395.0" y2="286.9" stroke="#1fb26b" stroke-width="1"/>
<rect x="393.5" y="275.7" width="3" height="9.2" fill="#1fb26b"/>
<line x1="399.6" y1="266.7" x2="399.6" y2="276.7" stroke="#1fb26b" stroke-width="1"/>
<rect x="398.1" y="268.7" width="3" height="7.0" fill="#1fb26b"/>
<line x1="404.2" y1="264.6" x2="404.2" y2="273.0" stroke="#f23645" stroke-width="1"/>
<rect x="402.7" y="268.7" width="3" height="3.8" fill="#f23645"/>
<line x1="408.8" y1="270.5" x2="408.8" y2="278.3" stroke="#f23645" stroke-width="1"/>
<rect x="407.3" y="272.5" width="3" height="3.8" fill="#f23645"/>
<line x1="413.4" y1="275.1" x2="413.4" y2="277.8" stroke="#1fb26b" stroke-width="1"/>
<rect x="411.9" y="274.9" width="3" height="1.6" fill="#1fb26b"/>
<line x1="418.0" y1="272.6" x2="418.0" y2="276.6" stroke="#1fb26b" stroke-width="1"/>
<rect x="416.5" y="274.0" width="3" height="1.6" fill="#1fb26b"/>
<line x1="422.6" y1="268.2" x2="422.6" y2="276.1" stroke="#1fb26b" stroke-width="1"/>
<rect x="421.1" y="272.9" width="3" height="1.7" fill="#1fb26b"/>
<line x1="427.2" y1="271.4" x2="427.2" y2="278.3" stroke="#f23645" stroke-width="1"/>
<rect x="425.7" y="272.9" width="3" height="3.8" fill="#f23645"/>
<line x1="431.8" y1="271.4" x2="431.8" y2="278.3" stroke="#1fb26b" stroke-width="1"/>
<rect x="430.3" y="271.4" width="3" height="5.3" fill="#1fb26b"/>
<line x1="436.4" y1="266.7" x2="436.4" y2="271.4" stroke="#1fb26b" stroke-width="1"/>
<rect x="434.9" y="268.2" width="3" height="3.2" fill="#1fb26b"/>
<line x1="441.0" y1="265.6" x2="441.0" y2="268.2" stroke="#1fb26b" stroke-width="1"/>
<rect x="439.5" y="266.1" width="3" height="2.1" fill="#1fb26b"/>
<line x1="445.6" y1="261.3" x2="445.6" y2="267.6" stroke="#1fb26b" stroke-width="1"/>
<rect x="444.1" y="261.8" width="3" height="4.3" fill="#1fb26b"/>
<line x1="450.2" y1="256.6" x2="450.2" y2="261.8" stroke="#1fb26b" stroke-width="1"/>
<rect x="448.7" y="257.1" width="3" height="4.7" fill="#1fb26b"/>
<line x1="454.8" y1="256.1" x2="454.8" y2="259.6" stroke="#f23645" stroke-width="1"/>
<rect x="453.3" y="256.6" width="3" height="1.6" fill="#f23645"/>
<line x1="459.4" y1="255.9" x2="459.4" y2="257.6" stroke="#1fb26b" stroke-width="1"/>
<rect x="457.9" y="255.9" width="3" height="1.7" fill="#1fb26b"/>
<line x1="464.0" y1="250.7" x2="464.0" y2="257.9" stroke="#1fb26b" stroke-width="1"/>
<rect x="462.5" y="250.7" width="3" height="5.1" fill="#1fb26b"/>
<line x1="468.6" y1="250.2" x2="468.6" y2="255.4" stroke="#f23645" stroke-width="1"/>
<rect x="467.1" y="250.4" width="3" height="1.6" fill="#f23645"/>
<line x1="473.2" y1="249.2" x2="473.2" y2="251.6" stroke="#1fb26b" stroke-width="1"/>
<rect x="471.7" y="250.6" width="3" height="1.6" fill="#1fb26b"/>
<line x1="477.8" y1="250.2" x2="477.8" y2="253.8" stroke="#f23645" stroke-width="1"/>
<rect x="476.3" y="250.7" width="3" height="1.6" fill="#f23645"/>
<line x1="482.4" y1="251.8" x2="482.4" y2="252.5" stroke="#f23645" stroke-width="1"/>
<rect x="480.9" y="251.3" width="3" height="1.6" fill="#f23645"/>
<line x1="487.0" y1="241.6" x2="487.0" y2="253.0" stroke="#1fb26b" stroke-width="1"/>
<rect x="485.5" y="245.2" width="3" height="7.2" fill="#1fb26b"/>
<line x1="491.6" y1="243.2" x2="491.6" y2="249.5" stroke="#f23645" stroke-width="1"/>
<rect x="490.1" y="245.2" width="3" height="2.8" fill="#f23645"/>
<line x1="496.2" y1="247.5" x2="496.2" y2="253.2" stroke="#f23645" stroke-width="1"/>
<rect x="494.7" y="248.0" width="3" height="4.3" fill="#f23645"/>
<line x1="500.8" y1="249.7" x2="500.8" y2="256.5" stroke="#1fb26b" stroke-width="1"/>
<rect x="499.3" y="250.7" width="3" height="1.6" fill="#1fb26b"/>
<line x1="505.4" y1="248.7" x2="505.4" y2="252.8" stroke="#f23645" stroke-width="1"/>
<rect x="503.9" y="250.5" width="3" height="1.6" fill="#f23645"/>
<line x1="510.0" y1="248.6" x2="510.0" y2="251.8" stroke="#1fb26b" stroke-width="1"/>
<rect x="508.5" y="250.1" width="3" height="1.7" fill="#1fb26b"/>
<line x1="514.6" y1="250.1" x2="514.6" y2="254.4" stroke="#f23645" stroke-width="1"/>
<rect x="513.1" y="250.1" width="3" height="2.8" fill="#f23645"/>
<line x1="519.2" y1="250.1" x2="519.2" y2="254.4" stroke="#1fb26b" stroke-width="1"/>
<rect x="517.7" y="251.4" width="3" height="1.6" fill="#1fb26b"/>
<line x1="523.8" y1="244.1" x2="523.8" y2="252.6" stroke="#1fb26b" stroke-width="1"/>
<rect x="522.3" y="245.6" width="3" height="6.0" fill="#1fb26b"/>
<line x1="528.4" y1="245.6" x2="528.4" y2="249.1" stroke="#f23645" stroke-width="1"/>
<rect x="526.9" y="245.6" width="3" height="3.0" fill="#f23645"/>
<line x1="533.0" y1="242.0" x2="533.0" y2="249.6" stroke="#1fb26b" stroke-width="1"/>
<rect x="531.5" y="242.0" width="3" height="6.6" fill="#1fb26b"/>
<line x1="537.6" y1="240.1" x2="537.6" y2="248.3" stroke="#f23645" stroke-width="1"/>
<rect x="536.1" y="242.0" width="3" height="5.3" fill="#f23645"/>
<line x1="542.1" y1="245.8" x2="542.1" y2="255.9" stroke="#f23645" stroke-width="1"/>
<rect x="540.6" y="247.3" width="3" height="4.9" fill="#f23645"/>
<line x1="546.7" y1="251.7" x2="546.7" y2="254.9" stroke="#f23645" stroke-width="1"/>
<rect x="545.2" y="251.8" width="3" height="1.6" fill="#f23645"/>
<line x1="551.3" y1="245.2" x2="551.3" y2="253.4" stroke="#1fb26b" stroke-width="1"/>
<rect x="549.8" y="245.2" width="3" height="7.7" fill="#1fb26b"/>
<line x1="555.9" y1="243.2" x2="555.9" y2="247.9" stroke="#f23645" stroke-width="1"/>
<rect x="554.4" y="245.2" width="3" height="1.7" fill="#f23645"/>
<line x1="560.5" y1="244.3" x2="560.5" y2="248.9" stroke="#1fb26b" stroke-width="1"/>
<rect x="559.0" y="244.8" width="3" height="2.1" fill="#1fb26b"/>
<line x1="565.1" y1="238.4" x2="565.1" y2="244.8" stroke="#1fb26b" stroke-width="1"/>
<rect x="563.6" y="240.9" width="3" height="3.8" fill="#1fb26b"/>
<line x1="569.7" y1="238.9" x2="569.7" y2="244.3" stroke="#f23645" stroke-width="1"/>
<rect x="568.2" y="240.9" width="3" height="2.3" fill="#f23645"/>
<line x1="574.3" y1="243.3" x2="574.3" y2="246.4" stroke="#f23645" stroke-width="1"/>
<rect x="572.8" y="243.3" width="3" height="2.1" fill="#f23645"/>
<line x1="578.9" y1="242.6" x2="578.9" y2="246.4" stroke="#1fb26b" stroke-width="1"/>
<rect x="577.4" y="244.2" width="3" height="1.6" fill="#1fb26b"/>
<line x1="583.5" y1="243.4" x2="583.5" y2="245.6" stroke="#1fb26b" stroke-width="1"/>
<rect x="582.0" y="243.4" width="3" height="1.6" fill="#1fb26b"/>
<line x1="588.1" y1="243.4" x2="588.1" y2="247.8" stroke="#f23645" stroke-width="1"/>
<rect x="586.6" y="243.9" width="3" height="1.9" fill="#f23645"/>
<line x1="592.7" y1="243.8" x2="592.7" y2="248.1" stroke="#f23645" stroke-width="1"/>
<rect x="591.2" y="245.1" width="3" height="1.6" fill="#f23645"/>
<line x1="597.3" y1="243.1" x2="597.3" y2="250.3" stroke="#1fb26b" stroke-width="1"/>
<rect x="595.8" y="244.1" width="3" height="1.9" fill="#1fb26b"/>
<line x1="601.9" y1="238.4" x2="601.9" y2="244.6" stroke="#1fb26b" stroke-width="1"/>
<rect x="600.4" y="240.5" width="3" height="3.6" fill="#1fb26b"/>
<line x1="606.5" y1="238.5" x2="606.5" y2="242.7" stroke="#f23645" stroke-width="1"/>
<rect x="605.0" y="240.5" width="3" height="1.7" fill="#f23645"/>
<line x1="611.1" y1="241.7" x2="611.1" y2="246.3" stroke="#f23645" stroke-width="1"/>
<rect x="609.6" y="242.2" width="3" height="2.6" fill="#f23645"/>
<line x1="615.7" y1="242.1" x2="615.7" y2="245.3" stroke="#1fb26b" stroke-width="1"/>
<rect x="614.2" y="242.6" width="3" height="2.1" fill="#1fb26b"/>
<line x1="620.3" y1="240.6" x2="620.3" y2="245.0" stroke="#f23645" stroke-width="1"/>
<rect x="618.8" y="242.3" width="3" height="1.6" fill="#f23645"/>
<line x1="624.9" y1="242.5" x2="624.9" y2="248.6" stroke="#f23645" stroke-width="1"/>
<rect x="623.4" y="243.5" width="3" height="2.1" fill="#f23645"/>
<line x1="629.5" y1="242.2" x2="629.5" y2="245.6" stroke="#1fb26b" stroke-width="1"/>
<rect x="628.0" y="242.2" width="3" height="3.4" fill="#1fb26b"/>
<line x1="634.1" y1="241.2" x2="634.1" y2="244.4" stroke="#f23645" stroke-width="1"/>
<rect x="632.6" y="241.7" width="3" height="1.6" fill="#f23645"/>
<line x1="638.7" y1="241.0" x2="638.7" y2="243.4" stroke="#1fb26b" stroke-width="1"/>
<rect x="637.2" y="241.6" width="3" height="1.6" fill="#1fb26b"/>
<line x1="643.3" y1="234.1" x2="643.3" y2="244.0" stroke="#1fb26b" stroke-width="1"/>
<rect x="641.8" y="238.4" width="3" height="3.6" fill="#1fb26b"/>
<line x1="647.9" y1="235.2" x2="647.9" y2="239.9" stroke="#1fb26b" stroke-width="1"/>
<rect x="646.4" y="236.2" width="3" height="2.1" fill="#1fb26b"/>
<line x1="652.5" y1="234.0" x2="652.5" y2="237.2" stroke="#1fb26b" stroke-width="1"/>
<rect x="651.0" y="234.8" width="3" height="1.6" fill="#1fb26b"/>
<line x1="657.1" y1="235.0" x2="657.1" y2="236.3" stroke="#f23645" stroke-width="1"/>
<rect x="655.6" y="234.6" width="3" height="1.6" fill="#f23645"/>
<line x1="661.7" y1="225.2" x2="661.7" y2="236.7" stroke="#f23645" stroke-width="1"/>
<rect x="660.2" y="235.4" width="3" height="1.6" fill="#f23645"/>
<line x1="666.3" y1="231.5" x2="666.3" y2="238.2" stroke="#1fb26b" stroke-width="1"/>
<rect x="664.8" y="232.0" width="3" height="4.7" fill="#1fb26b"/>
<line x1="670.9" y1="231.5" x2="670.9" y2="235.1" stroke="#f23645" stroke-width="1"/>
<rect x="669.4" y="232.0" width="3" height="2.1" fill="#f23645"/>
<line x1="675.5" y1="230.8" x2="675.5" y2="235.6" stroke="#1fb26b" stroke-width="1"/>
<rect x="674.0" y="231.3" width="3" height="2.8" fill="#1fb26b"/>
<line x1="680.1" y1="229.3" x2="680.1" y2="238.2" stroke="#f23645" stroke-width="1"/>
<rect x="678.6" y="231.3" width="3" height="4.9" fill="#f23645"/>
<line x1="684.7" y1="234.5" x2="684.7" y2="237.7" stroke="#1fb26b" stroke-width="1"/>
<rect x="683.2" y="234.5" width="3" height="1.7" fill="#1fb26b"/>
<line x1="689.3" y1="232.0" x2="689.3" y2="234.5" stroke="#1fb26b" stroke-width="1"/>
<rect x="687.8" y="233.0" width="3" height="1.6" fill="#1fb26b"/>
<line x1="693.9" y1="233.0" x2="693.9" y2="235.0" stroke="#f23645" stroke-width="1"/>
<rect x="692.4" y="232.5" width="3" height="1.6" fill="#f23645"/>
<line x1="698.4" y1="231.9" x2="698.4" y2="235.0" stroke="#1fb26b" stroke-width="1"/>
<rect x="696.9" y="232.1" width="3" height="1.6" fill="#1fb26b"/>
<line x1="703.0" y1="231.5" x2="703.0" y2="233.9" stroke="#1fb26b" stroke-width="1"/>
<rect x="701.5" y="231.4" width="3" height="1.6" fill="#1fb26b"/>
<line x1="707.6" y1="231.0" x2="707.6" y2="233.7" stroke="#f23645" stroke-width="1"/>
<rect x="706.1" y="232.0" width="3" height="1.7" fill="#f23645"/>
<line x1="712.2" y1="232.0" x2="712.2" y2="235.2" stroke="#1fb26b" stroke-width="1"/>
<rect x="710.7" y="232.8" width="3" height="1.6" fill="#1fb26b"/>
<line x1="716.8" y1="231.5" x2="716.8" y2="233.5" stroke="#1fb26b" stroke-width="1"/>
<rect x="715.3" y="232.5" width="3" height="1.6" fill="#1fb26b"/>
<line x1="721.4" y1="229.8" x2="721.4" y2="238.0" stroke="#1fb26b" stroke-width="1"/>
<rect x="719.9" y="230.3" width="3" height="2.8" fill="#1fb26b"/>
<line x1="726.0" y1="225.5" x2="726.0" y2="230.8" stroke="#1fb26b" stroke-width="1"/>
<rect x="724.5" y="226.0" width="3" height="4.3" fill="#1fb26b"/>
<line x1="730.6" y1="226.0" x2="730.6" y2="228.2" stroke="#f23645" stroke-width="1"/>
<rect x="729.1" y="226.0" width="3" height="1.7" fill="#f23645"/>
<line x1="735.2" y1="224.0" x2="735.2" y2="229.2" stroke="#1fb26b" stroke-width="1"/>
<rect x="733.7" y="226.0" width="3" height="1.7" fill="#1fb26b"/>
<line x1="739.8" y1="225.5" x2="739.8" y2="232.9" stroke="#f23645" stroke-width="1"/>
<rect x="738.3" y="226.0" width="3" height="4.9" fill="#f23645"/>
<line x1="744.4" y1="226.1" x2="744.4" y2="233.7" stroke="#1fb26b" stroke-width="1"/>
<rect x="742.9" y="228.1" width="3" height="2.8" fill="#1fb26b"/>
<line x1="749.0" y1="223.0" x2="749.0" y2="229.1" stroke="#1fb26b" stroke-width="1"/>
<rect x="747.5" y="224.5" width="3" height="3.6" fill="#1fb26b"/>
<line x1="753.6" y1="224.0" x2="753.6" y2="227.2" stroke="#f23645" stroke-width="1"/>
<rect x="752.1" y="224.0" width="3" height="1.6" fill="#f23645"/>
<line x1="758.2" y1="214.0" x2="758.2" y2="225.7" stroke="#1fb26b" stroke-width="1"/>
<rect x="756.7" y="216.0" width="3" height="9.2" fill="#1fb26b"/>
<line x1="762.8" y1="216.0" x2="762.8" y2="221.3" stroke="#f23645" stroke-width="1"/>
<rect x="761.3" y="216.0" width="3" height="5.3" fill="#f23645"/>
<line x1="767.4" y1="216.6" x2="767.4" y2="223.3" stroke="#1fb26b" stroke-width="1"/>
<rect x="765.9" y="216.6" width="3" height="4.7" fill="#1fb26b"/>
<line x1="772.0" y1="205.9" x2="772.0" y2="218.1" stroke="#1fb26b" stroke-width="1"/>
<rect x="770.5" y="206.4" width="3" height="10.2" fill="#1fb26b"/>
<line x1="776.6" y1="183.9" x2="776.6" y2="206.7" stroke="#1fb26b" stroke-width="1"/>
<rect x="775.1" y="184.2" width="3" height="22.2" fill="#1fb26b"/>
<line x1="781.2" y1="151.2" x2="781.2" y2="187.0" stroke="#1fb26b" stroke-width="1"/>
<rect x="779.7" y="151.2" width="3" height="35.2" fill="#1fb26b"/>
<line x1="785.8" y1="120.1" x2="785.8" y2="152.8" stroke="#1fb26b" stroke-width="1"/>
<rect x="784.3" y="120.4" width="3" height="31.8" fill="#1fb26b"/>
<line x1="790.4" y1="104.0" x2="790.4" y2="126.7" stroke="#1fb26b" stroke-width="1"/>
<rect x="788.9" y="116.0" width="3" height="6.0" fill="#1fb26b"/>
<line x1="795.0" y1="98.0" x2="795.0" y2="126.9" stroke="#f23645" stroke-width="1"/>
<rect x="793.5" y="114.5" width="3" height="11.2" fill="#f23645"/>
<line x1="799.6" y1="108.0" x2="799.6" y2="121.8" stroke="#1fb26b" stroke-width="1"/>
<rect x="798.1" y="116.7" width="3" height="4.8" fill="#1fb26b"/>
<line x1="804.2" y1="89.0" x2="804.2" y2="118.7" stroke="#1fb26b" stroke-width="1"/>
<rect x="802.7" y="104.0" width="3" height="13.5" fill="#1fb26b"/>
<line x1="808.8" y1="54.4" x2="808.8" y2="105.4" stroke="#1fb26b" stroke-width="1"/>
<rect x="807.3" y="67.5" width="3" height="37.3" fill="#1fb26b"/>
<line x1="813.4" y1="67.6" x2="813.4" y2="86.9" stroke="#f23645" stroke-width="1"/>
<rect x="811.9" y="68.2" width="3" height="17.5" fill="#f23645"/>
<line x1="818.0" y1="65.1" x2="818.0" y2="89.5" stroke="#1fb26b" stroke-width="1"/>
<rect x="816.5" y="66.0" width="3" height="20.1" fill="#1fb26b"/>
<line x1="822.6" y1="61.0" x2="822.6" y2="72.7" stroke="#1fb26b" stroke-width="1"/>
<rect x="821.1" y="62.2" width="3" height="4.5" fill="#1fb26b"/>
<line x1="827.2" y1="60.4" x2="827.2" y2="63.7" stroke="#1fb26b" stroke-width="1"/>
<rect x="825.7" y="60.7" width="3" height="3.0" fill="#1fb26b"/>
<line x1="831.8" y1="29.9" x2="831.8" y2="62.4" stroke="#1fb26b" stroke-width="1"/>
<rect x="830.3" y="49.0" width="3" height="12.8" fill="#1fb26b"/>
<line x1="836.4" y1="43.4" x2="836.4" y2="52.4" stroke="#1fb26b" stroke-width="1"/>
<rect x="834.9" y="44.3" width="3" height="6.9" fill="#1fb26b"/>
<line x1="841.0" y1="43.6" x2="841.0" y2="64.0" stroke="#f23645" stroke-width="1"/>
<rect x="839.5" y="44.8" width="3" height="11.7" fill="#f23645"/>
<line x1="845.6" y1="54.5" x2="845.6" y2="68.5" stroke="#f23645" stroke-width="1"/>
<rect x="844.1" y="55.4" width="3" height="11.9" fill="#f23645"/>
<line x1="850.1" y1="60.6" x2="850.1" y2="67.5" stroke="#1fb26b" stroke-width="1"/>
<rect x="848.6" y="61.8" width="3" height="5.4" fill="#1fb26b"/>
<line x1="854.7" y1="37.2" x2="854.7" y2="63.2" stroke="#1fb26b" stroke-width="1"/>
<rect x="853.2" y="38.4" width="3" height="24.5" fill="#1fb26b"/>
<line x1="859.3" y1="20.3" x2="859.3" y2="49.0" stroke="#1fb26b" stroke-width="1"/>
<rect x="857.8" y="24.5" width="3" height="14.9" fill="#1fb26b"/>
<line x1="863.9" y1="14.9" x2="863.9" y2="38.4" stroke="#f23645" stroke-width="1"/>
<rect x="862.4" y="24.5" width="3" height="8.5" fill="#f23645"/>
<line x1="868.5" y1="27.7" x2="868.5" y2="34.9" stroke="#f23645" stroke-width="1"/>
<rect x="867.0" y="32.0" width="3" height="1.7" fill="#f23645"/>
<line x1="873.1" y1="31.8" x2="873.1" y2="56.5" stroke="#f23645" stroke-width="1"/>
<rect x="871.6" y="33.0" width="3" height="21.4" fill="#f23645"/>
<line x1="877.7" y1="32.0" x2="877.7" y2="55.3" stroke="#1fb26b" stroke-width="1"/>
<rect x="876.2" y="32.0" width="3" height="22.4" fill="#1fb26b"/>
<line x1="882.3" y1="20.3" x2="882.3" y2="33.3" stroke="#1fb26b" stroke-width="1"/>
<rect x="880.8" y="22.4" width="3" height="10.6" fill="#1fb26b"/>
<line x1="886.9" y1="21.2" x2="886.9" y2="40.5" stroke="#f23645" stroke-width="1"/>
<rect x="885.4" y="22.4" width="3" height="18.1" fill="#f23645"/>
<line x1="891.5" y1="34.1" x2="891.5" y2="51.5" stroke="#f23645" stroke-width="1"/>
<rect x="890.0" y="40.5" width="3" height="10.7" fill="#f23645"/>
<line x1="896.1" y1="49.8" x2="896.1" y2="58.6" stroke="#f23645" stroke-width="1"/>
<rect x="894.6" y="50.1" width="3" height="6.4" fill="#f23645"/>
<line x1="900.7" y1="41.6" x2="900.7" y2="56.2" stroke="#1fb26b" stroke-width="1"/>
<rect x="899.2" y="45.8" width="3" height="10.1" fill="#1fb26b"/>
<line x1="905.3" y1="37.1" x2="905.3" y2="47.7" stroke="#1fb26b" stroke-width="1"/>
<rect x="903.8" y="38.0" width="3" height="8.5" fill="#1fb26b"/>
<line x1="909.9" y1="37.3" x2="909.9" y2="40.0" stroke="#1fb26b" stroke-width="1"/>
<rect x="908.4" y="37.2" width="3" height="1.6" fill="#1fb26b"/>
<line x1="914.5" y1="36.7" x2="914.5" y2="43.7" stroke="#1fb26b" stroke-width="1"/>
<rect x="913.0" y="36.7" width="3" height="1.7" fill="#1fb26b"/>
<line x1="919.1" y1="36.7" x2="919.1" y2="40.6" stroke="#f23645" stroke-width="1"/>
<rect x="917.6" y="37.3" width="3" height="2.1" fill="#f23645"/>
<polygon points="75.7,253.5 80.1,253.5 77.9,256.8" fill="#f23645"/>
<polygon points="167.6,243.7 172.0,243.7 169.8,247.0" fill="#f23645"/>
<polygon points="195.2,242.2 199.6,242.2 197.4,245.5" fill="#f23645"/>
<polygon points="282.5,248.6 286.9,248.6 284.7,251.9" fill="#f23645"/>
<polygon points="319.3,255.0 323.7,255.0 321.5,258.3" fill="#f23645"/>
<polygon points="402.0,262.0 406.4,262.0 404.2,265.3" fill="#f23645"/>
<polygon points="484.8,239.0 489.2,239.0 487.0,242.3" fill="#f23645"/>
<polygon points="535.4,237.5 539.8,237.5 537.6,240.8" fill="#f23645"/>
<polygon points="562.9,235.8 567.3,235.8 565.1,239.1" fill="#f23645"/>
<polygon points="599.7,235.8 604.1,235.8 601.9,239.1" fill="#f23645"/>
<polygon points="659.5,222.4 663.9,222.4 661.7,225.7" fill="#f23645"/>
<polygon points="829.6,27.9 834.0,27.9 831.8,31.2" fill="#f23645"/>
<polygon points="861.7,12.4 866.1,12.4 863.9,15.7" fill="#f23645"/>
<polygon points="94.0,291.1 98.4,291.1 96.2,287.8" fill="#3fae5a"/>
<polygon points="149.2,263.3 153.6,263.3 151.4,260.0" fill="#3fae5a"/>
<polygon points="209.0,282.9 213.4,282.9 211.2,279.6" fill="#3fae5a"/>
<polygon points="245.7,279.3 250.1,279.3 247.9,276.0" fill="#3fae5a"/>
<polygon points="268.7,277.2 273.1,277.2 270.9,273.9" fill="#3fae5a"/>
<polygon points="291.7,296.4 296.1,296.4 293.9,293.1" fill="#3fae5a"/>
<polygon points="360.7,300.0 365.1,300.0 362.9,296.7" fill="#3fae5a"/>
<polygon points="388.2,293.6 392.6,293.6 390.4,290.3" fill="#3fae5a"/>
<polygon points="498.6,259.1 503.0,259.1 500.8,255.8" fill="#3fae5a"/>
<polygon points="595.1,252.7 599.5,252.7 597.3,249.4" fill="#3fae5a"/>
<polygon points="622.7,251.0 627.1,251.0 624.9,247.7" fill="#3fae5a"/>
<polygon points="719.2,240.3 723.6,240.3 721.4,237.0" fill="#3fae5a"/>
<polygon points="742.2,236.0 746.6,236.0 744.4,232.7" fill="#3fae5a"/>
<polygon points="843.4,70.8 847.8,70.8 845.6,67.5" fill="#3fae5a"/>
<polygon points="893.9,62.3 898.3,62.3 896.1,59.0" fill="#3fae5a"/>
<path d="M468.1,266.6V273.4M464.7,270H471.5" stroke="#2196f3" stroke-width="1.8"/>
<path d="M541.9,256.6 L547.4,260.2 V271.4 Q547.4,272.9 545.9,272.9 H537.8 Q536.3,272.9 536.3,271.4 V260.2 Z" fill="#1fa866"/>
<text x="541.9" y="270.3" font-size="10" font-weight="bold" fill="#fff" text-anchor="middle">B</text>
<path d="M770.5,169.3 Q770.5,167.8 772.0,167.8 H780.0 Q781.5,167.8 781.5,169.3 V179.0 L776.0,182.8 L770.5,179.0 Z" fill="#f23645"/>
<text x="776.0" y="178.2" font-size="10" font-weight="bold" fill="#fff" text-anchor="middle">S</text>
<path d="M839.2,38.8 Q839.2,37.3 840.7,37.3 H848.7 Q850.2,37.3 850.2,38.8 V48.5 L844.7,52.3 L839.2,48.5 Z" fill="#f23645"/>
<text x="844.7" y="47.7" font-size="10" font-weight="bold" fill="#fff" text-anchor="middle">S</text>
<path d="M876.0,6.8 Q876.0,5.3 877.5,5.3 H885.5 Q887.0,5.3 887.0,6.8 V16.5 L881.5,20.3 L876.0,16.5 Z" fill="#f23645"/>
<text x="881.5" y="15.7" font-size="10" font-weight="bold" fill="#fff" text-anchor="middle">S</text>
</g>
<g clip-path="url(#rsi)">
<rect x="2.8" y="400.6" width="3" height="2.4" fill="#1d6f4c"/>
<rect x="7.4" y="400.6" width="3" height="2.4" fill="#93343b"/>
<rect x="12.0" y="400.0" width="3" height="3.0" fill="#93343b"/>
<rect x="16.6" y="399.1" width="3" height="3.9" fill="#1d6f4c"/>
<rect x="21.2" y="400.6" width="3" height="2.4" fill="#93343b"/>
<rect x="25.8" y="391.0" width="3" height="12.0" fill="#93343b"/>
<rect x="30.4" y="399.1" width="3" height="3.9" fill="#93343b"/>
<rect x="35.0" y="399.1" width="3" height="3.9" fill="#1d6f4c"/>
<rect x="39.6" y="385.7" width="3" height="17.3" fill="#93343b"/>
<rect x="44.2" y="395.3" width="3" height="7.7" fill="#1d6f4c"/>
<rect x="48.8" y="387.8" width="3" height="15.2" fill="#93343b"/>
<rect x="53.4" y="394.2" width="3" height="8.8" fill="#1d6f4c"/>
<rect x="58.0" y="369.3" width="3" height="33.7" fill="#93343b"/>
<rect x="62.6" y="382.5" width="3" height="20.5" fill="#93343b"/>
<rect x="67.2" y="396.4" width="3" height="6.6" fill="#1d6f4c"/>
<rect x="71.8" y="395.9" width="3" height="7.1" fill="#1d6f4c"/>
<rect x="76.4" y="396.4" width="3" height="6.6" fill="#93343b"/>
<rect x="80.9" y="398.5" width="3" height="4.5" fill="#93343b"/>
<rect x="85.5" y="396.4" width="3" height="6.6" fill="#93343b"/>
<rect x="90.1" y="390.6" width="3" height="12.4" fill="#93343b"/>
<rect x="94.7" y="385.1" width="3" height="17.9" fill="#93343b"/>
<rect x="99.3" y="397.0" width="3" height="6.0" fill="#1d6f4c"/>
<rect x="103.9" y="394.2" width="3" height="8.8" fill="#1d6f4c"/>
<rect x="108.5" y="397.8" width="3" height="5.2" fill="#93343b"/>
<rect x="113.1" y="399.1" width="3" height="3.9" fill="#1d6f4c"/>
<rect x="117.7" y="397.8" width="3" height="5.2" fill="#1d6f4c"/>
<rect x="122.3" y="388.9" width="3" height="14.1" fill="#1d6f4c"/>
<rect x="126.9" y="396.4" width="3" height="6.6" fill="#1d6f4c"/>
<rect x="131.5" y="399.1" width="3" height="3.9" fill="#93343b"/>
<rect x="136.1" y="401.3" width="3" height="1.7" fill="#1d6f4c"/>
<rect x="140.7" y="400.0" width="3" height="3.0" fill="#1d6f4c"/>
<rect x="145.3" y="397.8" width="3" height="5.2" fill="#93343b"/>
<rect x="149.9" y="400.0" width="3" height="3.0" fill="#1d6f4c"/>
<rect x="154.5" y="401.3" width="3" height="1.7" fill="#1d6f4c"/>
<rect x="159.1" y="400.0" width="3" height="3.0" fill="#93343b"/>
<rect x="163.7" y="394.9" width="3" height="8.1" fill="#1d6f4c"/>
<rect x="168.3" y="396.4" width="3" height="6.6" fill="#1d6f4c"/>
<rect x="172.9" y="400.0" width="3" height="3.0" fill="#93343b"/>
<rect x="177.5" y="397.8" width="3" height="5.2" fill="#93343b"/>
<rect x="182.1" y="397.8" width="3" height="5.2" fill="#93343b"/>
<rect x="186.7" y="395.3" width="3" height="7.7" fill="#1d6f4c"/>
<rect x="191.3" y="400.0" width="3" height="3.0" fill="#1d6f4c"/>
<rect x="195.9" y="400.0" width="3" height="3.0" fill="#93343b"/>
<rect x="200.5" y="390.0" width="3" height="13.0" fill="#93343b"/>
<rect x="205.1" y="386.1" width="3" height="16.9" fill="#93343b"/>
<rect x="209.7" y="386.1" width="3" height="16.9" fill="#1d6f4c"/>
<rect x="214.3" y="399.1" width="3" height="3.9" fill="#93343b"/>
<rect x="218.9" y="398.5" width="3" height="4.5" fill="#1d6f4c"/>
<rect x="223.5" y="397.8" width="3" height="5.2" fill="#1d6f4c"/>
<rect x="228.1" y="397.8" width="3" height="5.2" fill="#1d6f4c"/>
<rect x="232.7" y="397.8" width="3" height="5.2" fill="#93343b"/>
<rect x="237.2" y="401.3" width="3" height="1.7" fill="#1d6f4c"/>
<rect x="241.8" y="401.3" width="3" height="1.7" fill="#93343b"/>
<rect x="246.4" y="401.3" width="3" height="1.7" fill="#93343b"/>
<rect x="251.0" y="401.3" width="3" height="1.7" fill="#1d6f4c"/>
<rect x="255.6" y="399.1" width="3" height="3.9" fill="#93343b"/>
<rect x="260.2" y="400.0" width="3" height="3.0" fill="#1d6f4c"/>
<rect x="264.8" y="401.3" width="3" height="1.7" fill="#93343b"/>
<rect x="269.4" y="397.8" width="3" height="5.2" fill="#1d6f4c"/>
<rect x="274.0" y="401.3" width="3" height="1.7" fill="#1d6f4c"/>
<rect x="278.6" y="396.4" width="3" height="6.6" fill="#1d6f4c"/>
<rect x="283.2" y="399.1" width="3" height="3.9" fill="#93343b"/>
<rect x="287.8" y="399.1" width="3" height="3.9" fill="#93343b"/>
<rect x="292.4" y="384.2" width="3" height="18.8" fill="#93343b"/>
<rect x="297.0" y="395.3" width="3" height="7.7" fill="#1d6f4c"/>
<rect x="301.6" y="399.1" width="3" height="3.9" fill="#1d6f4c"/>
<rect x="306.2" y="400.6" width="3" height="2.4" fill="#1d6f4c"/>
<rect x="310.8" y="397.8" width="3" height="5.2" fill="#1d6f4c"/>
<rect x="315.4" y="399.1" width="3" height="3.9" fill="#1d6f4c"/>
<rect x="320.0" y="401.3" width="3" height="1.7" fill="#93343b"/>
<rect x="324.6" y="392.1" width="3" height="10.9" fill="#93343b"/>
<rect x="329.2" y="400.0" width="3" height="3.0" fill="#1d6f4c"/>
<rect x="333.8" y="401.3" width="3" height="1.7" fill="#93343b"/>
<rect x="338.4" y="400.0" width="3" height="3.0" fill="#1d6f4c"/>
<rect x="343.0" y="401.3" width="3" height="1.7" fill="#1d6f4c"/>
<rect x="347.6" y="401.3" width="3" height="1.7" fill="#93343b"/>
<rect x="352.2" y="400.0" width="3" height="3.0" fill="#93343b"/>
<rect x="356.8" y="400.0" width="3" height="3.0" fill="#93343b"/>
<rect x="361.4" y="390.6" width="3" height="12.4" fill="#1d6f4c"/>
<rect x="366.0" y="397.8" width="3" height="5.2" fill="#93343b"/>
<rect x="370.6" y="397.8" width="3" height="5.2" fill="#1d6f4c"/>
<rect x="375.2" y="401.3" width="3" height="1.7" fill="#1d6f4c"/>
<rect x="379.8" y="401.3" width="3" height="1.7" fill="#93343b"/>
<rect x="384.4" y="401.3" width="3" height="1.7" fill="#1d6f4c"/>
<rect x="388.9" y="397.8" width="3" height="5.2" fill="#93343b"/>
<rect x="393.5" y="399.1" width="3" height="3.9" fill="#1d6f4c"/>
<rect x="398.1" y="397.0" width="3" height="6.0" fill="#1d6f4c"/>
<rect x="402.7" y="397.8" width="3" height="5.2" fill="#93343b"/>
<rect x="407.3" y="401.3" width="3" height="1.7" fill="#93343b"/>
<rect x="411.9" y="401.3" width="3" height="1.7" fill="#1d6f4c"/>
<rect x="416.5" y="399.1" width="3" height="3.9" fill="#1d6f4c"/>
<rect x="421.1" y="401.3" width="3" height="1.7" fill="#1d6f4c"/>
<rect x="425.7" y="401.3" width="3" height="1.7" fill="#93343b"/>
<rect x="430.3" y="400.0" width="3" height="3.0" fill="#1d6f4c"/>
<rect x="434.9" y="401.3" width="3" height="1.7" fill="#1d6f4c"/>
<rect x="439.5" y="401.3" width="3" height="1.7" fill="#1d6f4c"/>
<rect x="444.1" y="399.1" width="3" height="3.9" fill="#1d6f4c"/>
<rect x="448.7" y="399.1" width="3" height="3.9" fill="#1d6f4c"/>
<rect x="453.3" y="401.3" width="3" height="1.7" fill="#93343b"/>
<rect x="457.9" y="401.3" width="3" height="1.7" fill="#1d6f4c"/>
<rect x="462.5" y="397.0" width="3" height="6.0" fill="#1d6f4c"/>
<rect x="467.1" y="400.6" width="3" height="2.4" fill="#93343b"/>
<rect x="471.7" y="397.8" width="3" height="5.2" fill="#1d6f4c"/>
<rect x="476.3" y="401.3" width="3" height="1.7" fill="#93343b"/>
<rect x="480.9" y="400.0" width="3" height="3.0" fill="#93343b"/>
<rect x="485.5" y="397.0" width="3" height="6.0" fill="#1d6f4c"/>
<rect x="490.1" y="400.0" width="3" height="3.0" fill="#93343b"/>
<rect x="494.7" y="401.7" width="3" height="1.3" fill="#93343b"/>
<rect x="499.3" y="401.3" width="3" height="1.7" fill="#1d6f4c"/>
<rect x="503.9" y="401.7" width="3" height="1.3" fill="#93343b"/>
<rect x="508.5" y="400.0" width="3" height="3.0" fill="#1d6f4c"/>
<rect x="513.1" y="400.0" width="3" height="3.0" fill="#93343b"/>
<rect x="517.7" y="401.3" width="3" height="1.7" fill="#1d6f4c"/>
<rect x="522.3" y="401.3" width="3" height="1.7" fill="#1d6f4c"/>
<rect x="526.9" y="401.7" width="3" height="1.3" fill="#93343b"/>
<rect x="531.5" y="397.8" width="3" height="5.2" fill="#1d6f4c"/>
<rect x="536.1" y="397.0" width="3" height="6.0" fill="#93343b"/>
<rect x="540.6" y="401.7" width="3" height="1.3" fill="#93343b"/>
<rect x="545.2" y="401.7" width="3" height="1.3" fill="#93343b"/>
<rect x="549.8" y="401.7" width="3" height="1.3" fill="#1d6f4c"/>
<rect x="554.4" y="400.6" width="3" height="2.4" fill="#93343b"/>
<rect x="559.0" y="397.8" width="3" height="5.2" fill="#1d6f4c"/>
<rect x="563.6" y="401.3" width="3" height="1.7" fill="#1d6f4c"/>
<rect x="568.2" y="401.3" width="3" height="1.7" fill="#93343b"/>
<rect x="572.8" y="401.7" width="3" height="1.3" fill="#93343b"/>
<rect x="577.4" y="401.7" width="3" height="1.3" fill="#1d6f4c"/>
<rect x="582.0" y="401.3" width="3" height="1.7" fill="#1d6f4c"/>
<rect x="586.6" y="401.7" width="3" height="1.3" fill="#93343b"/>
<rect x="591.2" y="400.6" width="3" height="2.4" fill="#93343b"/>
<rect x="595.8" y="401.7" width="3" height="1.3" fill="#1d6f4c"/>
<rect x="600.4" y="401.3" width="3" height="1.7" fill="#1d6f4c"/>
<rect x="605.0" y="397.0" width="3" height="6.0" fill="#93343b"/>
<rect x="609.6" y="399.1" width="3" height="3.9" fill="#93343b"/>
<rect x="614.2" y="401.7" width="3" height="1.3" fill="#1d6f4c"/>
<rect x="618.8" y="400.6" width="3" height="2.4" fill="#93343b"/>
<rect x="623.4" y="401.3" width="3" height="1.7" fill="#93343b"/>
<rect x="628.0" y="400.6" width="3" height="2.4" fill="#1d6f4c"/>
<rect x="632.6" y="401.3" width="3" height="1.7" fill="#93343b"/>
<rect x="637.2" y="400.0" width="3" height="3.0" fill="#1d6f4c"/>
<rect x="641.8" y="401.3" width="3" height="1.7" fill="#1d6f4c"/>
<rect x="646.4" y="401.3" width="3" height="1.7" fill="#1d6f4c"/>
<rect x="651.0" y="401.3" width="3" height="1.7" fill="#1d6f4c"/>
<rect x="655.6" y="400.0" width="3" height="3.0" fill="#93343b"/>
<rect x="660.2" y="391.4" width="3" height="11.6" fill="#93343b"/>
<rect x="664.8" y="400.6" width="3" height="2.4" fill="#1d6f4c"/>
<rect x="669.4" y="399.1" width="3" height="3.9" fill="#93343b"/>
<rect x="674.0" y="401.3" width="3" height="1.7" fill="#1d6f4c"/>
<rect x="678.6" y="400.0" width="3" height="3.0" fill="#93343b"/>
<rect x="683.2" y="400.6" width="3" height="2.4" fill="#1d6f4c"/>
<rect x="687.8" y="401.3" width="3" height="1.7" fill="#1d6f4c"/>
<rect x="692.4" y="400.0" width="3" height="3.0" fill="#93343b"/>
<rect x="696.9" y="400.6" width="3" height="2.4" fill="#1d6f4c"/>
<rect x="701.5" y="401.3" width="3" height="1.7" fill="#1d6f4c"/>
<rect x="706.1" y="400.6" width="3" height="2.4" fill="#93343b"/>
<rect x="710.7" y="401.3" width="3" height="1.7" fill="#1d6f4c"/>
<rect x="715.3" y="400.6" width="3" height="2.4" fill="#1d6f4c"/>
<rect x="719.9" y="401.3" width="3" height="1.7" fill="#1d6f4c"/>
<rect x="724.5" y="400.6" width="3" height="2.4" fill="#1d6f4c"/>
<rect x="729.1" y="400.0" width="3" height="3.0" fill="#93343b"/>
<rect x="733.7" y="401.3" width="3" height="1.7" fill="#1d6f4c"/>
<rect x="738.3" y="401.3" width="3" height="1.7" fill="#93343b"/>
<rect x="742.9" y="397.0" width="3" height="6.0" fill="#1d6f4c"/>
<rect x="747.5" y="400.6" width="3" height="2.4" fill="#1d6f4c"/>
<rect x="752.1" y="400.6" width="3" height="2.4" fill="#93343b"/>
<rect x="756.7" y="397.0" width="3" height="6.0" fill="#1d6f4c"/>
<rect x="761.3" y="399.1" width="3" height="3.9" fill="#93343b"/>
<rect x="765.9" y="400.6" width="3" height="2.4" fill="#1d6f4c"/>
<rect x="770.5" y="392.7" width="3" height="10.3" fill="#1d6f4c"/>
<rect x="775.1" y="385.1" width="3" height="17.9" fill="#1d6f4c"/>
<rect x="779.7" y="377.8" width="3" height="25.2" fill="#1d6f4c"/>
<rect x="784.3" y="345.2" width="3" height="57.8" fill="#1d6f4c"/>
<rect x="788.9" y="369.3" width="3" height="33.7" fill="#1d6f4c"/>
<rect x="793.5" y="376.5" width="3" height="26.5" fill="#93343b"/>
<rect x="798.1" y="390.0" width="3" height="13.0" fill="#1d6f4c"/>
<rect x="802.7" y="365.4" width="3" height="37.6" fill="#1d6f4c"/>
<rect x="807.3" y="319.6" width="3" height="83.4" fill="#1d6f4c"/>
<rect x="811.9" y="376.5" width="3" height="26.5" fill="#93343b"/>
<rect x="816.5" y="381.4" width="3" height="21.6" fill="#1d6f4c"/>
<rect x="821.1" y="389.3" width="3" height="13.7" fill="#1d6f4c"/>
<rect x="825.7" y="379.3" width="3" height="23.7" fill="#1d6f4c"/>
<rect x="830.3" y="366.5" width="3" height="36.5" fill="#1d6f4c"/>
<rect x="834.9" y="392.7" width="3" height="10.3" fill="#1d6f4c"/>
<rect x="839.5" y="386.3" width="3" height="16.7" fill="#93343b"/>
<rect x="844.1" y="387.8" width="3" height="15.2" fill="#93343b"/>
<rect x="848.6" y="392.7" width="3" height="10.3" fill="#1d6f4c"/>
<rect x="853.2" y="385.1" width="3" height="17.9" fill="#1d6f4c"/>
<rect x="857.8" y="364.4" width="3" height="38.6" fill="#1d6f4c"/>
<rect x="862.4" y="383.1" width="3" height="19.9" fill="#93343b"/>
<rect x="867.0" y="391.4" width="3" height="11.6" fill="#93343b"/>
<rect x="871.6" y="390.0" width="3" height="13.0" fill="#93343b"/>
<rect x="876.2" y="392.7" width="3" height="10.3" fill="#1d6f4c"/>
<rect x="880.8" y="396.4" width="3" height="6.6" fill="#1d6f4c"/>
<rect x="885.4" y="396.4" width="3" height="6.6" fill="#93343b"/>
<rect x="890.0" y="393.2" width="3" height="9.8" fill="#93343b"/>
<rect x="894.6" y="395.3" width="3" height="7.7" fill="#93343b"/>
<rect x="899.2" y="393.2" width="3" height="9.8" fill="#1d6f4c"/>
<rect x="903.8" y="398.5" width="3" height="4.5" fill="#1d6f4c"/>
<rect x="908.4" y="397.8" width="3" height="5.2" fill="#1d6f4c"/>
<rect x="913.0" y="397.0" width="3" height="6.0" fill="#1d6f4c"/>
<rect x="917.6" y="401.3" width="3" height="1.7" fill="#93343b"/>
<path d="M3.2,399.6 C6.2,399.6 14.4,399.8 21.0,399.6 C27.6,399.4 35.8,399.2 43.0,398.5 C50.2,397.8 57.0,396.3 64.0,395.3 C71.0,394.3 77.8,393.4 85.0,392.7 C92.2,392.0 100.5,391.7 107.0,391.4 C113.5,391.1 117.0,390.8 124.0,391.0 C131.0,391.2 141.2,392.1 149.0,392.7 C156.8,393.3 163.8,394.3 171.0,394.9 C178.2,395.5 185.0,396.0 192.0,396.4 C199.0,396.8 205.7,396.9 213.0,397.0 C220.3,397.1 221.5,396.9 236.0,397.0 C250.5,397.1 272.7,397.2 300.0,397.5 C327.3,397.8 373.3,398.2 400.0,398.5 C426.7,398.8 426.7,399.3 460.0,399.5 C493.3,399.7 551.0,399.7 600.0,399.8 C649.0,399.9 724.8,400.1 754.0,400.0 C783.2,399.9 769.3,399.9 775.0,399.5 C780.7,399.1 783.7,398.5 788.0,397.8 C792.3,397.1 796.7,396.4 801.0,395.3 C805.3,394.2 809.8,392.8 814.0,391.4 C818.2,390.0 821.8,388.6 826.0,387.2 C830.2,385.8 834.7,384.1 839.0,382.9 C843.3,381.7 847.7,380.7 852.0,379.9 C856.3,379.1 860.7,378.6 865.0,378.2 C869.3,377.8 873.8,377.4 878.0,377.4 C882.2,377.4 885.8,377.6 890.0,378.2 C894.2,378.8 898.2,379.7 903.0,380.8 C907.8,381.9 916.3,384.3 919.0,385.0" fill="none" stroke="#1b4f76" stroke-width="1.2"/>
<line x1="3.2" y1="333.9" x2="1054.5" y2="333.9" stroke="#a82d38" stroke-width="1.4" stroke-dasharray="5,5.19"/>
<line x1="3.2" y1="350.5" x2="1054.5" y2="350.5" stroke="#7c7c7c" stroke-width="1.4" stroke-dasharray="5,5.19"/>
<line x1="3.2" y1="377.9" x2="1054.5" y2="377.9" stroke="#377f37" stroke-width="1.4" stroke-dasharray="5,5.19"/>
<polyline points="3.2,353.7 8.1,361.2 12.8,366.5 17.5,364.4 22.4,368.6 27.3,380.4 31.6,384.6 35.8,382.5 40.5,397.4 45.2,392.1 49.7,396.4 54.4,378.2 59.1,386.8 63.5,390.0 68.2,376.1 73.1,363.7 77.4,366.5 81.9,366.5 86.4,375.0 91.0,376.1 95.5,379.3 100.2,374.0 105.1,363.3 109.8,366.5 114.5,358.0 119.0,356.9 123.2,347.3 127.9,344.5 132.4,350.1 137.1,348.8 141.8,345.8 146.5,350.9 151.0,350.5 155.7,347.3 160.3,352.6 164.8,350.5 169.5,347.3 174.2,348.8 178.7,350.5 183.4,350.1 188.1,345.2 192.5,344.8 197.2,346.7 201.9,356.9 206.4,368.0 211.1,365.4 215.8,367.1 220.3,367.6 224.5,355.8 229.2,350.1 233.6,360.1 238.1,358.6 242.8,359.5 247.5,360.3 252.0,357.3 256.7,358.2 261.1,356.5 265.8,358.0 270.3,355.8 275.0,349.4 279.5,341.6 284.2,344.5 288.8,347.3 293.5,364.4 298.2,356.5 302.9,353.7 307.4,350.5 311.9,347.3 316.6,345.8 321.0,347.3 325.5,359.0 330.2,355.2 334.9,356.9 339.4,351.6 344.1,350.9 348.8,350.9 353.2,355.8 357.7,362.2 362.4,360.7 366.9,364.4 371.6,359.0 376.3,357.3 380.7,361.8 385.4,358.6 390.1,360.7 394.8,351.6 399.5,346.2 404.2,348.0 408.7,352.2 413.4,350.5 417.8,350.5 422.5,349.4 427.0,353.3 431.7,348.0 436.2,345.2 440.9,343.7 445.6,340.9 450.0,338.1 454.7,338.4 459.2,338.1 463.0,334.5 467.9,334.5 472.4,334.3 477.1,334.7 481.7,336.4 486.4,331.7 491.1,333.5 495.6,340.3 500.1,339.0 504.8,339.2 509.5,338.1 514.2,343.0 518.6,342.0 523.3,337.3 528.0,339.9 532.7,334.5 537.2,340.9 541.9,347.3 546.4,347.3 551.0,341.6 555.5,343.0 560.2,340.9 564.7,338.4 569.4,339.4 574.1,343.0 578.6,343.0 583.2,342.0 587.9,345.8 592.4,346.7 596.9,343.0 601.6,339.4 606.3,340.9 610.7,345.8 615.4,342.0 620.1,345.8 624.6,348.4 629.3,343.0 634.0,344.8 638.5,343.7 642.9,339.9 647.6,337.3 652.3,337.1 656.8,336.0 661.5,339.4 666.2,334.1 670.7,338.1 675.4,335.6 680.0,345.8 684.7,342.4 689.2,343.0 692.3,342.0 697.0,341.6 701.7,339.9 706.2,343.0 710.9,344.5 715.6,344.1 721.1,339.4 725.8,334.5 730.3,338.8 734.8,337.7 739.5,346.2 744.2,342.0 748.6,339.4 753.3,338.1 758.0,331.3 762.7,338.8 767.2,335.2 771.9,331.3 776.6,325.4 781.0,320.7 785.5,319.0 790.2,319.0 794.9,322.4 799.4,321.9 804.1,320.7 807.9,319.0 813.2,325.4 817.9,323.9 822.4,323.6 827.1,323.2 831.6,322.4 836.3,322.4 840.7,327.1 845.4,331.3 850.1,330.3 854.8,327.5 859.3,326.0 864.0,329.2 868.7,329.6 873.2,337.3 877.6,333.5 881.9,331.7 886.8,337.7 891.5,340.9 896.0,342.6 900.7,340.5 905.4,338.6 910.0,338.6 914.5,338.4 919.2,339.2" fill="none" stroke="#7e57c2" stroke-width="1.15" stroke-linejoin="round"/>
</g>
<line x1="0" y1="314.5" x2="1109" y2="314.5" stroke="#2b2f3a" stroke-width="1"/>
<line x1="0" y1="403.5" x2="1109" y2="403.5" stroke="#737378" stroke-width="1"/>
<line x1="2.5" y1="1" x2="2.5" y2="427" stroke="#98989e" stroke-width="1"/>
<line x1="1054.5" y1="1" x2="1054.5" y2="427" stroke="#737378" stroke-width="1"/>
<rect x="0" y="462.6" width="1109" height="2.2" fill="#000"/>
<text x="11.4" y="19.9" font-size="12.1" fill="#b6b6bb" textLength="104.8" lengthAdjust="spacingAndGlyphs" stroke="#b6b6bb" stroke-width="0.3">BTCUSDT Perpetual</text>
<rect x="122" y="15.6" width="2.2" height="2.2" fill="#b6b6bb"/><rect x="138.6" y="15.6" width="2.2" height="2.2" fill="#b6b6bb"/>
<text x="128.6" y="19.9" font-size="12.1" fill="#b6b6bb" textLength="5" lengthAdjust="spacingAndGlyphs" stroke="#b6b6bb" stroke-width="0.3">1</text>
<text x="146.5" y="19.9" font-size="12.1" fill="#b6b6bb" textLength="26.5" lengthAdjust="spacingAndGlyphs" stroke="#b6b6bb" stroke-width="0.3">Bybit</text>
<text x="181.3" y="19.9" font-size="12.1" fill="#b6b6bb" textLength="7" lengthAdjust="spacingAndGlyphs" stroke="#b6b6bb" stroke-width="0.3">O</text>
<text x="189.9" y="19.9" font-size="12.1" fill="#f23645" textLength="53" lengthAdjust="spacingAndGlyphs" stroke="#f23645" stroke-width="0.3">89,208.60</text>
<text x="249.5" y="19.9" font-size="12.1" fill="#b6b6bb" textLength="6.3" lengthAdjust="spacingAndGlyphs" stroke="#b6b6bb" stroke-width="0.3">H</text>
<text x="257.6" y="19.9" font-size="12.1" fill="#f23645" textLength="53.6" lengthAdjust="spacingAndGlyphs" stroke="#f23645" stroke-width="0.3">89,208.70</text>
<text x="317.9" y="19.9" font-size="12.1" fill="#b6b6bb" textLength="5.2" lengthAdjust="spacingAndGlyphs" stroke="#b6b6bb" stroke-width="0.3">L</text>
<text x="325" y="19.9" font-size="12.1" fill="#f23645" textLength="53" lengthAdjust="spacingAndGlyphs" stroke="#f23645" stroke-width="0.3">89,188.70</text>
<text x="384.3" y="19.9" font-size="12.1" fill="#b6b6bb" textLength="6.5" lengthAdjust="spacingAndGlyphs" stroke="#b6b6bb" stroke-width="0.3">C</text>
<text x="392.4" y="19.9" font-size="12.1" fill="#f23645" textLength="53" lengthAdjust="spacingAndGlyphs" stroke="#f23645" stroke-width="0.3">89,196.10</text>
<text x="452.2" y="19.9" font-size="12.1" fill="#f23645" textLength="34.9" lengthAdjust="spacingAndGlyphs" stroke="#f23645" stroke-width="0.3">−12.50</text>
<text x="492.9" y="19.9" font-size="12.1" fill="#f23645" textLength="44.2" lengthAdjust="spacingAndGlyphs" stroke="#f23645" stroke-width="0.3">(−0.01%)</text>
<text x="1060.4" y="7.7" font-size="9.5" fill="#b4b4b9" textLength="40.5" lengthAdjust="spacingAndGlyphs" >89,500.00</text>
<text x="1060.4" y="61.8" font-size="9.5" fill="#b4b4b9" textLength="40.5" lengthAdjust="spacingAndGlyphs" >89,000.00</text>
<text x="1060.4" y="88.9" font-size="9.5" fill="#b4b4b9" textLength="40.5" lengthAdjust="spacingAndGlyphs" >88,750.00</text>
<text x="1060.4" y="115.9" font-size="9.5" fill="#b4b4b9" textLength="40.5" lengthAdjust="spacingAndGlyphs" >88,500.00</text>
<text x="1060.4" y="143.0" font-size="9.5" fill="#b4b4b9" textLength="40.5" lengthAdjust="spacingAndGlyphs" >88,250.00</text>
<text x="1060.4" y="170.0" font-size="9.5" fill="#b4b4b9" textLength="40.5" lengthAdjust="spacingAndGlyphs" >88,000.00</text>
<text x="1060.4" y="197.1" font-size="9.5" fill="#b4b4b9" textLength="40.5" lengthAdjust="spacingAndGlyphs" >87,750.00</text>
<text x="1060.4" y="224.1" font-size="9.5" fill="#b4b4b9" textLength="40.5" lengthAdjust="spacingAndGlyphs" >87,500.00</text>
<text x="1060.4" y="251.2" font-size="9.5" fill="#b4b4b9" textLength="40.5" lengthAdjust="spacingAndGlyphs" >87,250.00</text>
<text x="1060.4" y="278.2" font-size="9.5" fill="#b4b4b9" textLength="40.5" lengthAdjust="spacingAndGlyphs" >87,000.00</text>
<text x="1060.4" y="305.3" font-size="9.5" fill="#b4b4b9" textLength="40.5" lengthAdjust="spacingAndGlyphs" >86,750.00</text>
<text x="1060.4" y="332.1" font-size="9.5" fill="#b4b4b9" textLength="22.6" lengthAdjust="spacingAndGlyphs" >75.00</text>
<text x="1060.4" y="372.3" font-size="9.5" fill="#b4b4b9" textLength="22.6" lengthAdjust="spacingAndGlyphs" >35.00</text>
<text x="1060.4" y="401.90000000000003" font-size="9.5" fill="#b4b4b9" textLength="22.6" lengthAdjust="spacingAndGlyphs" >20.00</text>
<path d="M1055,6.4 H1103.8 Q1105.8,6.4 1105.8,8.4 V17.6 Q1105.8,19.6 1103.8,19.6 H1055 Z" fill="#cc3843"/>
<text x="1060.4" y="15.2" font-size="9.5" fill="#fff" textLength="40.5" lengthAdjust="spacingAndGlyphs" stroke="#fff" stroke-width="0.25">89,262.60</text>
<path d="M1055,19.6 H1105.8 Q1105.8,19.6 1105.8,19.6 V33 Q1105.8,33 1105.8,33 H1055 Z" fill="#f5a60b"/>
<text x="1060.4" y="28.5" font-size="9.5" fill="#17171a" textLength="40.5" lengthAdjust="spacingAndGlyphs" stroke="#17171a" stroke-width="0.25">89,199.57</text>
<path d="M1055,33 H1103.8 Q1105.8,33 1105.8,35 V44 Q1105.8,46 1103.8,46 H1055 Z" fill="#f0424f"/>
<text x="1060.4" y="41.7" font-size="9.5" fill="#fff" textLength="40.5" lengthAdjust="spacingAndGlyphs" stroke="#fff" stroke-width="0.25">89,196.10</text>
<path d="M1055,104 H1103.8 Q1105.8,104 1105.8,106 V115.8 Q1105.8,117.8 1103.8,117.8 H1055 Z" fill="#2962ff"/>
<text x="1060.4" y="113.1" font-size="9.5" fill="#fff" textLength="40.5" lengthAdjust="spacingAndGlyphs" stroke="#fff" stroke-width="0.25">88,540.95</text>
<path d="M1055,121 H1103.8 Q1105.8,121 1105.8,123 V132.9 Q1105.8,134.9 1103.8,134.9 H1055 Z" fill="#2962ff"/>
<text x="1060.4" y="130.2" font-size="9.5" fill="#fff" textLength="40.5" lengthAdjust="spacingAndGlyphs" stroke="#fff" stroke-width="0.25">88,384.42</text>
<path d="M1055,137 H1103.8 Q1105.8,137 1105.8,139 V148.9 Q1105.8,150.9 1103.8,150.9 H1055 Z" fill="#2962ff"/>
<text x="1060.4" y="146.1" font-size="9.5" fill="#fff" textLength="40.5" lengthAdjust="spacingAndGlyphs" stroke="#fff" stroke-width="0.25">88,237.67</text>
<path d="M1055,166.9 H1105.8 Q1105.8,166.9 1105.8,166.9 V180.7 Q1105.8,180.7 1105.8,180.7 H1055 Z" fill="#f23645"/>
<text x="1060.4" y="176.0" font-size="9.5" fill="#fff" textLength="40.5" lengthAdjust="spacingAndGlyphs" stroke="#fff" stroke-width="0.25">87,960.02</text>
<path d="M1055,180.4 H1105.8 Q1105.8,180.4 1105.8,180.4 V194 Q1105.8,194 1105.8,194 H1055 Z" fill="#2962ff"/>
<text x="1060.4" y="189.4" font-size="9.5" fill="#fff" textLength="40.5" lengthAdjust="spacingAndGlyphs" stroke="#fff" stroke-width="0.25">87,843.07</text>
<path d="M1055,193.7 H1105.8 Q1105.8,193.7 1105.8,193.7 V206 Q1105.8,206 1105.8,206 H1055 Z" fill="#f23645"/>
<text x="1060.4" y="202.0" font-size="9.5" fill="#fff" textLength="40.5" lengthAdjust="spacingAndGlyphs" stroke="#fff" stroke-width="0.25">87,736.03</text>
<path d="M1055,205.7 H1105.8 Q1105.8,205.7 1105.8,205.7 V220.2 Q1105.8,220.2 1105.8,220.2 H1055 Z" fill="#2962ff"/>
<text x="1060.4" y="215.1" font-size="9.5" fill="#fff" textLength="40.5" lengthAdjust="spacingAndGlyphs" stroke="#fff" stroke-width="0.25">87,649.53</text>
<path d="M1055,219.8 H1103.8 Q1105.8,219.8 1105.8,221.8 V231.6 Q1105.8,233.6 1103.8,233.6 H1055 Z" fill="#2962ff"/>
<text x="1060.4" y="228.9" font-size="9.5" fill="#fff" textLength="40.5" lengthAdjust="spacingAndGlyphs" stroke="#fff" stroke-width="0.25">87,588.29</text>
<path d="M1055,249.2 H1103.8 Q1105.8,249.2 1105.8,251.2 V261 Q1105.8,263 1103.8,263 H1055 Z" fill="#f23645"/>
<text x="1060.4" y="258.3" font-size="9.5" fill="#fff" textLength="40.5" lengthAdjust="spacingAndGlyphs" stroke="#fff" stroke-width="0.25">87,200.89</text>
<path d="M1055,273.4 H1103.8 Q1105.8,273.4 1105.8,275.4 V285.2 Q1105.8,287.2 1103.8,287.2 H1055 Z" fill="#2962ff"/>
<text x="1060.4" y="282.5" font-size="9.5" fill="#fff" textLength="40.5" lengthAdjust="spacingAndGlyphs" stroke="#fff" stroke-width="0.25">86,971.92</text>
<text x="15.1" y="417.7" font-size="9.5" fill="#a9a9ae" textLength="23.1" lengthAdjust="spacingAndGlyphs" >08:30</text>
<text x="84.1" y="417.7" font-size="9.5" fill="#a9a9ae" textLength="23.1" lengthAdjust="spacingAndGlyphs" >08:45</text>
<text x="153.1" y="417.7" font-size="9.5" fill="#a9a9ae" textLength="23.1" lengthAdjust="spacingAndGlyphs" >09:00</text>
<text x="222.0" y="417.7" font-size="9.5" fill="#a9a9ae" textLength="23.1" lengthAdjust="spacingAndGlyphs" >09:15</text>
<text x="291.0" y="417.7" font-size="9.5" fill="#a9a9ae" textLength="23.1" lengthAdjust="spacingAndGlyphs" >09:30</text>
<text x="359.9" y="417.7" font-size="9.5" fill="#a9a9ae" textLength="23.1" lengthAdjust="spacingAndGlyphs" >09:45</text>
<text x="428.9" y="417.7" font-size="9.5" fill="#a9a9ae" textLength="23.1" lengthAdjust="spacingAndGlyphs" >10:00</text>
<text x="497.9" y="417.7" font-size="9.5" fill="#a9a9ae" textLength="23.1" lengthAdjust="spacingAndGlyphs" >10:15</text>
<text x="566.8" y="417.7" font-size="9.5" fill="#a9a9ae" textLength="23.1" lengthAdjust="spacingAndGlyphs" >10:30</text>
<text x="635.8" y="417.7" font-size="9.5" fill="#a9a9ae" textLength="23.1" lengthAdjust="spacingAndGlyphs" >10:45</text>
<text x="704.7" y="417.7" font-size="9.5" fill="#a9a9ae" textLength="23.1" lengthAdjust="spacingAndGlyphs" >11:00</text>
<text x="773.7" y="417.7" font-size="9.5" fill="#a9a9ae" textLength="23.1" lengthAdjust="spacingAndGlyphs" >11:15</text>
<text x="842.7" y="417.7" font-size="9.5" fill="#a9a9ae" textLength="23.1" lengthAdjust="spacingAndGlyphs" >11:30</text>
<text x="911.6" y="417.7" font-size="9.5" fill="#a9a9ae" textLength="23.1" lengthAdjust="spacingAndGlyphs" >11:45</text>
<text x="980.6" y="417.7" font-size="9.5" fill="#a9a9ae" textLength="23.1" lengthAdjust="spacingAndGlyphs" >12:00</text>
<text x="-0.6" y="451.2" font-size="12.4" fill="#d0d2da" textLength="8.2" lengthAdjust="spacingAndGlyphs" >D</text>
<text x="19.9" y="451.2" font-size="12.4" fill="#d0d2da" textLength="16.1" lengthAdjust="spacingAndGlyphs" >1M</text>
<text x="47" y="451.2" font-size="12.4" fill="#d0d2da" textLength="16.2" lengthAdjust="spacingAndGlyphs" >3M</text>
<text x="74.4" y="451.2" font-size="12.4" fill="#d0d2da" textLength="16.3" lengthAdjust="spacingAndGlyphs" >6M</text>
<text x="102" y="451.2" font-size="12.4" fill="#d0d2da" textLength="13.7" lengthAdjust="spacingAndGlyphs" >1Y</text>
<line x1="126.6" y1="436.5" x2="126.6" y2="456.8" stroke="#3d3d44" stroke-width="1"/>
<g fill="none" stroke="#c9c9cf" stroke-width="1.2"><path d="M141.5,444.5 V442.2 Q141.5,440.6 143.1,440.6 H154.9 Q156.5,440.6 156.5,442.2 V452.3 Q156.5,453.9 154.9,453.9 H147.5"/><path d="M145.2,438.2 V442.2 M152.8,438.2 V442.2"/><path d="M138.3,450.3 H145.5 M142.8,447.6 L145.5,450.3 L142.8,453"/></g>
<text x="910" y="451.2" font-size="12.4" fill="#d0d2da" textLength="91" lengthAdjust="spacingAndGlyphs" >11:44:14 UTC+9</text>
<line x1="1011.5" y1="436.5" x2="1011.5" y2="456.8" stroke="#3d3d44" stroke-width="1"/>
<text x="1021.3" y="451.2" font-size="12.4" fill="#d0d2da" textLength="12" lengthAdjust="spacingAndGlyphs" >%</text>
<text x="1046" y="451.2" font-size="12.4" fill="#d0d2da" textLength="16.7" lengthAdjust="spacingAndGlyphs" >log</text>
<text x="1074" y="451.2" font-size="12.4" fill="#f5a60b" textLength="26.3" lengthAdjust="spacingAndGlyphs" >auto</text>
<path d="M1100.5,459.2 H1105.3 V454.4" fill="none" stroke="#6b6b70" stroke-width="1"/>
<circle cx="1082" cy="416" r="8.7" fill="#27272b"/>
<text x="1082" y="419.3" font-size="9.5" fill="#8f8f95" text-anchor="middle" >A</text>
<rect x="12.5" y="29.8" width="28.700000000000003" height="18.2" rx="3" fill="#121116" fill-opacity="0.85" stroke="#46464d" stroke-width="1"/>
<path d="M18.3,37.3 L22.3,41.1 L26.3,37.3" fill="none" stroke="#e8e8ec" stroke-width="1.3"/>
<text x="30.5" y="43.3" font-size="12.5" fill="#f0f0f3" textLength="6.3" lengthAdjust="spacingAndGlyphs" >6</text>
<rect x="12.3" y="321" width="29.3" height="18.80000000000001" rx="3" fill="#121116" fill-opacity="0.85" stroke="#46464d" stroke-width="1"/>
<path d="M18.1,328.79999999999995 L22.1,332.59999999999997 L26.1,328.79999999999995" fill="none" stroke="#e8e8ec" stroke-width="1.3"/>
<text x="30.3" y="334.8" font-size="12.5" fill="#f0f0f3" textLength="6.3" lengthAdjust="spacingAndGlyphs" >2</text>
<circle cx="29.3" cy="375.7" r="15.6" fill="#1c1c1f" stroke="#3b3b40" stroke-width="1.2"/>
<path d="M19.7,370.9 H27.1 V381 H23.9 V374.5 H19.7 Z" fill="#fff"/><circle cx="30.4" cy="372.5" r="1.5" fill="#fff"/><path d="M34.7,370.9 H39.7 L36.5,381 H31.1 Z" fill="#fff"/>
<rect x="464.2" y="21.5" width="128.6" height="20" fill="#141318"/>
<rect x="523.3" y="21.5" width="31.6" height="20" fill="#d63c42"/>
<g fill="none" stroke="#8f2c33" stroke-width="1.3"><rect x="464.2" y="21.5" width="128.6" height="20"/><path d="M554.9,21.5 V41.5 M573.4,21.5 V41.5"/></g>
<text x="469.9" y="34.5" font-size="9" fill="#fff" textLength="48.7" lengthAdjust="spacingAndGlyphs" font-weight="bold" >P&amp;L +3.32</text>
<text x="528.8" y="34.5" font-size="9" fill="#fff" textLength="20.2" lengthAdjust="spacingAndGlyphs" font-weight="bold" >0.05</text>
<g fill="none" stroke="#86868c" stroke-width="1.2"><path d="M560.9,36.2 V27.2 M559,29.3 L560.9,27.1 L562.8,29.3"/><path d="M566.3,27 V36 M564.4,33.9 L566.3,36.1 L568.2,33.9"/><path d="M579.2,27.6 L587,35.4 M587,27.6 L579.2,35.4"/></g>
</svg>
</body></html>
